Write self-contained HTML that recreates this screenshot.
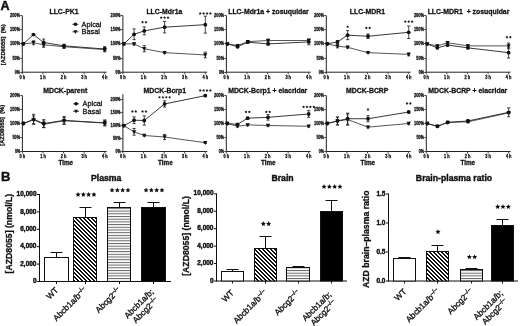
<!DOCTYPE html>
<html><head><meta charset="utf-8"><style>
html,body{margin:0;padding:0;background:#fff;width:520px;height:326px;overflow:hidden;}
svg{display:block;font-family:"Liberation Sans", sans-serif;filter:grayscale(1);}
text{stroke:#111;stroke-width:0.28px;}
</style></head><body>
<svg width="520" height="326" viewBox="0 0 520 326" font-family='"Liberation Sans", sans-serif'>
<defs>
<pattern id="diag" patternUnits="userSpaceOnUse" width="4" height="4">
<rect width="4" height="4" fill="#fff"/><path d="M0,0 L2,0 L4,2 L4,4 Z M0,2 L2,4 L0,4 Z" fill="#111" shape-rendering="crispEdges"/></pattern>
<pattern id="horiz" patternUnits="userSpaceOnUse" width="4" height="2.7">
<rect width="4" height="2.7" fill="#fff"/><rect x="0" y="0" width="4" height="1" fill="#666"/></pattern>
</defs>
<rect width="520" height="326" fill="#fff"/>
<text x="0.6" y="9.8" font-size="12.6" font-weight="bold" text-anchor="start" fill="#111" style="stroke-width:0.45px">A</text>
<text x="1" y="181.4" font-size="13" font-weight="bold" text-anchor="start" fill="#111" style="stroke-width:0.45px">B</text>
<text x="0" y="0" font-size="5.8" font-weight="bold" text-anchor="middle" fill="#111" transform="translate(5.3,44.8) rotate(-90)">[AZD8055]&#160;&#160;(%)</text>
<line x1="22.3" y1="15.6" x2="22.3" y2="72.7" stroke="#222" stroke-width="1.0"/>
<line x1="21.8" y1="72.2" x2="106.6" y2="72.2" stroke="#222" stroke-width="1.0"/>
<line x1="20.3" y1="15.5" x2="22.3" y2="15.5" stroke="#444" stroke-width="1.0"/>
<text x="20" y="17.25" font-size="5.0" font-weight="bold" text-anchor="end" fill="#111" style="stroke-width:0.3px" textLength="10" lengthAdjust="spacingAndGlyphs">200%</text>
<line x1="20.3" y1="29.5" x2="22.3" y2="29.5" stroke="#444" stroke-width="1.0"/>
<text x="20" y="31.25" font-size="5.0" font-weight="bold" text-anchor="end" fill="#111" style="stroke-width:0.3px" textLength="10" lengthAdjust="spacingAndGlyphs">150%</text>
<line x1="20.3" y1="43.5" x2="22.3" y2="43.5" stroke="#444" stroke-width="1.0"/>
<text x="20" y="45.25" font-size="5.0" font-weight="bold" text-anchor="end" fill="#111" style="stroke-width:0.3px" textLength="10" lengthAdjust="spacingAndGlyphs">100%</text>
<line x1="20.3" y1="58.5" x2="22.3" y2="58.5" stroke="#444" stroke-width="1.0"/>
<text x="20" y="60.25" font-size="5.0" font-weight="bold" text-anchor="end" fill="#111" style="stroke-width:0.3px" textLength="7.6" lengthAdjust="spacingAndGlyphs">50%</text>
<line x1="20.3" y1="72.5" x2="22.3" y2="72.5" stroke="#444" stroke-width="1.0"/>
<text x="20" y="74.25" font-size="5.0" font-weight="bold" text-anchor="end" fill="#111" style="stroke-width:0.3px" textLength="5.2" lengthAdjust="spacingAndGlyphs">0%</text>
<line x1="22.3" y1="72.2" x2="22.3" y2="74.2" stroke="#444" stroke-width="1.0"/>
<text x="22.3" y="78.7" font-size="4.7" font-weight="bold" text-anchor="middle" fill="#111" style="stroke-width:0.3px" textLength="5.6" lengthAdjust="spacingAndGlyphs">0 h</text>
<line x1="42.9" y1="72.2" x2="42.9" y2="74.2" stroke="#444" stroke-width="1.0"/>
<text x="42.9" y="78.7" font-size="4.7" font-weight="bold" text-anchor="middle" fill="#111" style="stroke-width:0.3px" textLength="5.6" lengthAdjust="spacingAndGlyphs">1 h</text>
<line x1="63.5" y1="72.2" x2="63.5" y2="74.2" stroke="#444" stroke-width="1.0"/>
<text x="63.5" y="78.7" font-size="4.7" font-weight="bold" text-anchor="middle" fill="#111" style="stroke-width:0.3px" textLength="5.6" lengthAdjust="spacingAndGlyphs">2 h</text>
<line x1="84.1" y1="72.2" x2="84.1" y2="74.2" stroke="#444" stroke-width="1.0"/>
<text x="84.1" y="78.7" font-size="4.7" font-weight="bold" text-anchor="middle" fill="#111" style="stroke-width:0.3px" textLength="5.6" lengthAdjust="spacingAndGlyphs">3 h</text>
<line x1="104.7" y1="72.2" x2="104.7" y2="74.2" stroke="#444" stroke-width="1.0"/>
<text x="104.7" y="78.7" font-size="4.7" font-weight="bold" text-anchor="middle" fill="#111" style="stroke-width:0.3px" textLength="5.6" lengthAdjust="spacingAndGlyphs">4 h</text>
<text x="64" y="13.7" font-size="6.9" font-weight="bold" text-anchor="middle" fill="#111" >LLC-PK1</text>
<polyline points="23.3,43.9 33.48,42.77 43.65,44.75 64,46.73 104.7,49.56" fill="none" stroke="#444" stroke-width="0.9"/>
<polyline points="23.3,43.9 33.48,34.56 43.65,42.49 64,45.88 104.7,48.99" fill="none" stroke="#222" stroke-width="0.9"/>
<path d="M21.2,42.22 L25.4,42.22 L23.3,46.21 Z" fill="#111"/>
<line x1="33.48" y1="44.75" x2="33.48" y2="40.79" stroke="#1a1a1a" stroke-width="0.8"/>
<line x1="31.88" y1="44.75" x2="35.08" y2="44.75" stroke="#1a1a1a" stroke-width="0.8"/>
<line x1="31.88" y1="40.79" x2="35.08" y2="40.79" stroke="#1a1a1a" stroke-width="0.8"/>
<path d="M31.38,41.09 L35.58,41.09 L33.48,45.08 Z" fill="#111"/>
<line x1="43.65" y1="47.3" x2="43.65" y2="42.2" stroke="#1a1a1a" stroke-width="0.8"/>
<line x1="42.05" y1="47.3" x2="45.25" y2="47.3" stroke="#1a1a1a" stroke-width="0.8"/>
<line x1="42.05" y1="42.2" x2="45.25" y2="42.2" stroke="#1a1a1a" stroke-width="0.8"/>
<path d="M41.55,43.07 L45.75,43.07 L43.65,47.06 Z" fill="#111"/>
<line x1="64" y1="48.43" x2="64" y2="45.03" stroke="#1a1a1a" stroke-width="0.8"/>
<line x1="62.4" y1="48.43" x2="65.6" y2="48.43" stroke="#1a1a1a" stroke-width="0.8"/>
<line x1="62.4" y1="45.03" x2="65.6" y2="45.03" stroke="#1a1a1a" stroke-width="0.8"/>
<path d="M61.9,45.05 L66.1,45.05 L64,49.04 Z" fill="#111"/>
<line x1="104.7" y1="51.82" x2="104.7" y2="47.3" stroke="#1a1a1a" stroke-width="0.8"/>
<line x1="103.1" y1="51.82" x2="106.3" y2="51.82" stroke="#1a1a1a" stroke-width="0.8"/>
<line x1="103.1" y1="47.3" x2="106.3" y2="47.3" stroke="#1a1a1a" stroke-width="0.8"/>
<path d="M102.6,47.88 L106.8,47.88 L104.7,51.87 Z" fill="#111"/>
<circle cx="23.3" cy="43.9" r="1.9" fill="#111"/>
<line x1="33.48" y1="35.13" x2="33.48" y2="34" stroke="#1a1a1a" stroke-width="0.8"/>
<line x1="31.88" y1="35.13" x2="35.08" y2="35.13" stroke="#1a1a1a" stroke-width="0.8"/>
<line x1="31.88" y1="34" x2="35.08" y2="34" stroke="#1a1a1a" stroke-width="0.8"/>
<circle cx="33.48" cy="34.56" r="1.9" fill="#111"/>
<line x1="43.65" y1="45.88" x2="43.65" y2="39.09" stroke="#1a1a1a" stroke-width="0.8"/>
<line x1="42.05" y1="45.88" x2="45.25" y2="45.88" stroke="#1a1a1a" stroke-width="0.8"/>
<line x1="42.05" y1="39.09" x2="45.25" y2="39.09" stroke="#1a1a1a" stroke-width="0.8"/>
<circle cx="43.65" cy="42.49" r="1.9" fill="#111"/>
<line x1="64" y1="47.58" x2="64" y2="44.18" stroke="#1a1a1a" stroke-width="0.8"/>
<line x1="62.4" y1="47.58" x2="65.6" y2="47.58" stroke="#1a1a1a" stroke-width="0.8"/>
<line x1="62.4" y1="44.18" x2="65.6" y2="44.18" stroke="#1a1a1a" stroke-width="0.8"/>
<circle cx="64" cy="45.88" r="1.9" fill="#111"/>
<line x1="104.7" y1="51.26" x2="104.7" y2="46.73" stroke="#1a1a1a" stroke-width="0.8"/>
<line x1="103.1" y1="51.26" x2="106.3" y2="51.26" stroke="#1a1a1a" stroke-width="0.8"/>
<line x1="103.1" y1="46.73" x2="106.3" y2="46.73" stroke="#1a1a1a" stroke-width="0.8"/>
<circle cx="104.7" cy="48.99" r="1.9" fill="#111"/>
<line x1="72.4" y1="24.3" x2="78.4" y2="24.3" stroke="#1a1a1a" stroke-width="0.8"/>
<circle cx="75.4" cy="24.3" r="1.8" fill="#111"/>
<line x1="72.4" y1="31.8" x2="78.4" y2="31.8" stroke="#1a1a1a" stroke-width="0.8"/>
<path d="M73.5,30.28 L77.3,30.28 L75.4,33.89 Z" fill="#111"/>
<text x="81.6" y="26.6" font-size="7.3" font-weight="normal" text-anchor="start" fill="#111" >Apical</text>
<text x="81.6" y="34.1" font-size="7.3" font-weight="normal" text-anchor="start" fill="#111" >Basal</text>
<line x1="122.9" y1="15.6" x2="122.9" y2="72.7" stroke="#222" stroke-width="1.0"/>
<line x1="122.4" y1="72.2" x2="207.2" y2="72.2" stroke="#222" stroke-width="1.0"/>
<line x1="120.9" y1="15.5" x2="122.9" y2="15.5" stroke="#444" stroke-width="1.0"/>
<text x="120.6" y="17.25" font-size="5.0" font-weight="bold" text-anchor="end" fill="#111" style="stroke-width:0.3px" textLength="10" lengthAdjust="spacingAndGlyphs">200%</text>
<line x1="120.9" y1="29.5" x2="122.9" y2="29.5" stroke="#444" stroke-width="1.0"/>
<text x="120.6" y="31.25" font-size="5.0" font-weight="bold" text-anchor="end" fill="#111" style="stroke-width:0.3px" textLength="10" lengthAdjust="spacingAndGlyphs">150%</text>
<line x1="120.9" y1="43.5" x2="122.9" y2="43.5" stroke="#444" stroke-width="1.0"/>
<text x="120.6" y="45.25" font-size="5.0" font-weight="bold" text-anchor="end" fill="#111" style="stroke-width:0.3px" textLength="10" lengthAdjust="spacingAndGlyphs">100%</text>
<line x1="120.9" y1="58.5" x2="122.9" y2="58.5" stroke="#444" stroke-width="1.0"/>
<text x="120.6" y="60.25" font-size="5.0" font-weight="bold" text-anchor="end" fill="#111" style="stroke-width:0.3px" textLength="7.6" lengthAdjust="spacingAndGlyphs">50%</text>
<line x1="120.9" y1="72.5" x2="122.9" y2="72.5" stroke="#444" stroke-width="1.0"/>
<text x="120.6" y="74.25" font-size="5.0" font-weight="bold" text-anchor="end" fill="#111" style="stroke-width:0.3px" textLength="5.2" lengthAdjust="spacingAndGlyphs">0%</text>
<line x1="122.9" y1="72.2" x2="122.9" y2="74.2" stroke="#444" stroke-width="1.0"/>
<text x="122.9" y="78.7" font-size="4.7" font-weight="bold" text-anchor="middle" fill="#111" style="stroke-width:0.3px" textLength="5.6" lengthAdjust="spacingAndGlyphs">0 h</text>
<line x1="143.5" y1="72.2" x2="143.5" y2="74.2" stroke="#444" stroke-width="1.0"/>
<text x="143.5" y="78.7" font-size="4.7" font-weight="bold" text-anchor="middle" fill="#111" style="stroke-width:0.3px" textLength="5.6" lengthAdjust="spacingAndGlyphs">1 h</text>
<line x1="164.1" y1="72.2" x2="164.1" y2="74.2" stroke="#444" stroke-width="1.0"/>
<text x="164.1" y="78.7" font-size="4.7" font-weight="bold" text-anchor="middle" fill="#111" style="stroke-width:0.3px" textLength="5.6" lengthAdjust="spacingAndGlyphs">2 h</text>
<line x1="184.7" y1="72.2" x2="184.7" y2="74.2" stroke="#444" stroke-width="1.0"/>
<text x="184.7" y="78.7" font-size="4.7" font-weight="bold" text-anchor="middle" fill="#111" style="stroke-width:0.3px" textLength="5.6" lengthAdjust="spacingAndGlyphs">3 h</text>
<line x1="205.3" y1="72.2" x2="205.3" y2="74.2" stroke="#444" stroke-width="1.0"/>
<text x="205.3" y="78.7" font-size="4.7" font-weight="bold" text-anchor="middle" fill="#111" style="stroke-width:0.3px" textLength="5.6" lengthAdjust="spacingAndGlyphs">4 h</text>
<text x="164.4" y="13.7" font-size="6.9" font-weight="bold" text-anchor="middle" fill="#111" >LLC-Mdr1a</text>
<polyline points="123.9,43.9 134.08,43.9 144.25,48.71 164.6,52.67 205.3,54.94" fill="none" stroke="#444" stroke-width="0.9"/>
<polyline points="123.9,43.9 134.08,34.28 144.25,30.88 164.6,27.2 205.3,24.66" fill="none" stroke="#222" stroke-width="0.9"/>
<path d="M121.8,42.22 L126,42.22 L123.9,46.21 Z" fill="#111"/>
<line x1="134.08" y1="45.03" x2="134.08" y2="42.77" stroke="#1a1a1a" stroke-width="0.8"/>
<line x1="132.48" y1="45.03" x2="135.68" y2="45.03" stroke="#1a1a1a" stroke-width="0.8"/>
<line x1="132.48" y1="42.77" x2="135.68" y2="42.77" stroke="#1a1a1a" stroke-width="0.8"/>
<path d="M131.98,42.22 L136.18,42.22 L134.08,46.21 Z" fill="#111"/>
<line x1="144.25" y1="51.82" x2="144.25" y2="45.6" stroke="#1a1a1a" stroke-width="0.8"/>
<line x1="142.65" y1="51.82" x2="145.85" y2="51.82" stroke="#1a1a1a" stroke-width="0.8"/>
<line x1="142.65" y1="45.6" x2="145.85" y2="45.6" stroke="#1a1a1a" stroke-width="0.8"/>
<path d="M142.15,47.03 L146.35,47.03 L144.25,51.02 Z" fill="#111"/>
<line x1="164.6" y1="53.52" x2="164.6" y2="51.82" stroke="#1a1a1a" stroke-width="0.8"/>
<line x1="163" y1="53.52" x2="166.2" y2="53.52" stroke="#1a1a1a" stroke-width="0.8"/>
<line x1="163" y1="51.82" x2="166.2" y2="51.82" stroke="#1a1a1a" stroke-width="0.8"/>
<path d="M162.5,50.99 L166.7,50.99 L164.6,54.98 Z" fill="#111"/>
<line x1="205.3" y1="57.77" x2="205.3" y2="52.11" stroke="#1a1a1a" stroke-width="0.8"/>
<line x1="203.7" y1="57.77" x2="206.9" y2="57.77" stroke="#1a1a1a" stroke-width="0.8"/>
<line x1="203.7" y1="52.11" x2="206.9" y2="52.11" stroke="#1a1a1a" stroke-width="0.8"/>
<path d="M203.2,53.26 L207.4,53.26 L205.3,57.25 Z" fill="#111"/>
<circle cx="123.9" cy="43.9" r="1.9" fill="#111"/>
<line x1="134.08" y1="39.66" x2="134.08" y2="28.9" stroke="#1a1a1a" stroke-width="0.8"/>
<line x1="132.48" y1="39.66" x2="135.68" y2="39.66" stroke="#1a1a1a" stroke-width="0.8"/>
<line x1="132.48" y1="28.9" x2="135.68" y2="28.9" stroke="#1a1a1a" stroke-width="0.8"/>
<circle cx="134.08" cy="34.28" r="1.9" fill="#111"/>
<line x1="144.25" y1="34.84" x2="144.25" y2="26.92" stroke="#1a1a1a" stroke-width="0.8"/>
<line x1="142.65" y1="34.84" x2="145.85" y2="34.84" stroke="#1a1a1a" stroke-width="0.8"/>
<line x1="142.65" y1="26.92" x2="145.85" y2="26.92" stroke="#1a1a1a" stroke-width="0.8"/>
<circle cx="144.25" cy="30.88" r="1.9" fill="#111"/>
<line x1="164.6" y1="32.86" x2="164.6" y2="21.54" stroke="#1a1a1a" stroke-width="0.8"/>
<line x1="163" y1="32.86" x2="166.2" y2="32.86" stroke="#1a1a1a" stroke-width="0.8"/>
<line x1="163" y1="21.54" x2="166.2" y2="21.54" stroke="#1a1a1a" stroke-width="0.8"/>
<circle cx="164.6" cy="27.2" r="1.9" fill="#111"/>
<line x1="205.3" y1="33.15" x2="205.3" y2="16.17" stroke="#1a1a1a" stroke-width="0.8"/>
<line x1="203.7" y1="33.15" x2="206.9" y2="33.15" stroke="#1a1a1a" stroke-width="0.8"/>
<line x1="203.7" y1="16.17" x2="206.9" y2="16.17" stroke="#1a1a1a" stroke-width="0.8"/>
<circle cx="205.3" cy="24.66" r="1.9" fill="#111"/>
<path d="M142.55,20.65 L143.01,21.57 L144.02,21.72 L143.29,22.44 L143.46,23.45 L142.55,22.97 L141.64,23.45 L141.81,22.44 L141.08,21.72 L142.09,21.57 Z M145.95,20.65 L146.41,21.57 L147.42,21.72 L146.69,22.44 L146.86,23.45 L145.95,22.97 L145.04,23.45 L145.21,22.44 L144.48,21.72 L145.49,21.57 Z" fill="#111"/>
<path d="M161.2,16.05 L161.66,16.97 L162.67,17.12 L161.94,17.84 L162.11,18.85 L161.2,18.38 L160.29,18.85 L160.46,17.84 L159.73,17.12 L160.74,16.97 Z M164.6,16.05 L165.06,16.97 L166.07,17.12 L165.34,17.84 L165.51,18.85 L164.6,18.38 L163.69,18.85 L163.86,17.84 L163.13,17.12 L164.14,16.97 Z M168,16.05 L168.46,16.97 L169.47,17.12 L168.74,17.84 L168.91,18.85 L168,18.38 L167.09,18.85 L167.26,17.84 L166.53,17.12 L167.54,16.97 Z" fill="#111"/>
<path d="M200.2,11.95 L200.66,12.87 L201.67,13.02 L200.94,13.74 L201.11,14.75 L200.2,14.28 L199.29,14.75 L199.46,13.74 L198.73,13.02 L199.74,12.87 Z M203.6,11.95 L204.06,12.87 L205.07,13.02 L204.34,13.74 L204.51,14.75 L203.6,14.28 L202.69,14.75 L202.86,13.74 L202.13,13.02 L203.14,12.87 Z M207,11.95 L207.46,12.87 L208.47,13.02 L207.74,13.74 L207.91,14.75 L207,14.28 L206.09,14.75 L206.26,13.74 L205.53,13.02 L206.54,12.87 Z M210.4,11.95 L210.86,12.87 L211.87,13.02 L211.14,13.74 L211.31,14.75 L210.4,14.28 L209.49,14.75 L209.66,13.74 L208.93,13.02 L209.94,12.87 Z" fill="#111"/>
<line x1="226.4" y1="15.6" x2="226.4" y2="72.7" stroke="#222" stroke-width="1.0"/>
<line x1="225.9" y1="72.2" x2="310.7" y2="72.2" stroke="#222" stroke-width="1.0"/>
<line x1="224.4" y1="15.5" x2="226.4" y2="15.5" stroke="#444" stroke-width="1.0"/>
<text x="224.1" y="17.25" font-size="5.0" font-weight="bold" text-anchor="end" fill="#111" style="stroke-width:0.3px" textLength="10" lengthAdjust="spacingAndGlyphs">200%</text>
<line x1="224.4" y1="29.5" x2="226.4" y2="29.5" stroke="#444" stroke-width="1.0"/>
<text x="224.1" y="31.25" font-size="5.0" font-weight="bold" text-anchor="end" fill="#111" style="stroke-width:0.3px" textLength="10" lengthAdjust="spacingAndGlyphs">150%</text>
<line x1="224.4" y1="43.5" x2="226.4" y2="43.5" stroke="#444" stroke-width="1.0"/>
<text x="224.1" y="45.25" font-size="5.0" font-weight="bold" text-anchor="end" fill="#111" style="stroke-width:0.3px" textLength="10" lengthAdjust="spacingAndGlyphs">100%</text>
<line x1="224.4" y1="58.5" x2="226.4" y2="58.5" stroke="#444" stroke-width="1.0"/>
<text x="224.1" y="60.25" font-size="5.0" font-weight="bold" text-anchor="end" fill="#111" style="stroke-width:0.3px" textLength="7.6" lengthAdjust="spacingAndGlyphs">50%</text>
<line x1="224.4" y1="72.5" x2="226.4" y2="72.5" stroke="#444" stroke-width="1.0"/>
<text x="224.1" y="74.25" font-size="5.0" font-weight="bold" text-anchor="end" fill="#111" style="stroke-width:0.3px" textLength="5.2" lengthAdjust="spacingAndGlyphs">0%</text>
<line x1="226.4" y1="72.2" x2="226.4" y2="74.2" stroke="#444" stroke-width="1.0"/>
<text x="226.4" y="78.7" font-size="4.7" font-weight="bold" text-anchor="middle" fill="#111" style="stroke-width:0.3px" textLength="5.6" lengthAdjust="spacingAndGlyphs">0 h</text>
<line x1="247" y1="72.2" x2="247" y2="74.2" stroke="#444" stroke-width="1.0"/>
<text x="247" y="78.7" font-size="4.7" font-weight="bold" text-anchor="middle" fill="#111" style="stroke-width:0.3px" textLength="5.6" lengthAdjust="spacingAndGlyphs">1 h</text>
<line x1="267.6" y1="72.2" x2="267.6" y2="74.2" stroke="#444" stroke-width="1.0"/>
<text x="267.6" y="78.7" font-size="4.7" font-weight="bold" text-anchor="middle" fill="#111" style="stroke-width:0.3px" textLength="5.6" lengthAdjust="spacingAndGlyphs">2 h</text>
<line x1="288.2" y1="72.2" x2="288.2" y2="74.2" stroke="#444" stroke-width="1.0"/>
<text x="288.2" y="78.7" font-size="4.7" font-weight="bold" text-anchor="middle" fill="#111" style="stroke-width:0.3px" textLength="5.6" lengthAdjust="spacingAndGlyphs">3 h</text>
<line x1="308.8" y1="72.2" x2="308.8" y2="74.2" stroke="#444" stroke-width="1.0"/>
<text x="308.8" y="78.7" font-size="4.7" font-weight="bold" text-anchor="middle" fill="#111" style="stroke-width:0.3px" textLength="5.6" lengthAdjust="spacingAndGlyphs">4 h</text>
<text x="268.5" y="13.7" font-size="6.9" font-weight="bold" text-anchor="middle" fill="#111" >LLC-Mdr1a + zosuquidar</text>
<polyline points="227.4,43.9 237.58,45.6 247.75,41.64 268.1,40.5 308.8,40.5" fill="none" stroke="#444" stroke-width="0.9"/>
<polyline points="227.4,43.9 237.58,46.73 247.75,42.2 268.1,43.9 308.8,41.92" fill="none" stroke="#222" stroke-width="0.9"/>
<path d="M225.3,42.22 L229.5,42.22 L227.4,46.21 Z" fill="#111"/>
<line x1="237.58" y1="46.45" x2="237.58" y2="44.75" stroke="#1a1a1a" stroke-width="0.8"/>
<line x1="235.98" y1="46.45" x2="239.18" y2="46.45" stroke="#1a1a1a" stroke-width="0.8"/>
<line x1="235.98" y1="44.75" x2="239.18" y2="44.75" stroke="#1a1a1a" stroke-width="0.8"/>
<path d="M235.48,43.92 L239.68,43.92 L237.58,47.91 Z" fill="#111"/>
<line x1="247.75" y1="42.49" x2="247.75" y2="40.79" stroke="#1a1a1a" stroke-width="0.8"/>
<line x1="246.15" y1="42.49" x2="249.35" y2="42.49" stroke="#1a1a1a" stroke-width="0.8"/>
<line x1="246.15" y1="40.79" x2="249.35" y2="40.79" stroke="#1a1a1a" stroke-width="0.8"/>
<path d="M245.65,39.96 L249.85,39.96 L247.75,43.95 Z" fill="#111"/>
<line x1="268.1" y1="41.64" x2="268.1" y2="39.37" stroke="#1a1a1a" stroke-width="0.8"/>
<line x1="266.5" y1="41.64" x2="269.7" y2="41.64" stroke="#1a1a1a" stroke-width="0.8"/>
<line x1="266.5" y1="39.37" x2="269.7" y2="39.37" stroke="#1a1a1a" stroke-width="0.8"/>
<path d="M266,38.82 L270.2,38.82 L268.1,42.81 Z" fill="#111"/>
<line x1="308.8" y1="41.64" x2="308.8" y2="39.37" stroke="#1a1a1a" stroke-width="0.8"/>
<line x1="307.2" y1="41.64" x2="310.4" y2="41.64" stroke="#1a1a1a" stroke-width="0.8"/>
<line x1="307.2" y1="39.37" x2="310.4" y2="39.37" stroke="#1a1a1a" stroke-width="0.8"/>
<path d="M306.7,38.82 L310.9,38.82 L308.8,42.81 Z" fill="#111"/>
<circle cx="227.4" cy="43.9" r="1.9" fill="#111"/>
<line x1="237.58" y1="47.58" x2="237.58" y2="45.88" stroke="#1a1a1a" stroke-width="0.8"/>
<line x1="235.98" y1="47.58" x2="239.18" y2="47.58" stroke="#1a1a1a" stroke-width="0.8"/>
<line x1="235.98" y1="45.88" x2="239.18" y2="45.88" stroke="#1a1a1a" stroke-width="0.8"/>
<circle cx="237.58" cy="46.73" r="1.9" fill="#111"/>
<line x1="247.75" y1="43.05" x2="247.75" y2="41.35" stroke="#1a1a1a" stroke-width="0.8"/>
<line x1="246.15" y1="43.05" x2="249.35" y2="43.05" stroke="#1a1a1a" stroke-width="0.8"/>
<line x1="246.15" y1="41.35" x2="249.35" y2="41.35" stroke="#1a1a1a" stroke-width="0.8"/>
<circle cx="247.75" cy="42.2" r="1.9" fill="#111"/>
<line x1="268.1" y1="44.75" x2="268.1" y2="43.05" stroke="#1a1a1a" stroke-width="0.8"/>
<line x1="266.5" y1="44.75" x2="269.7" y2="44.75" stroke="#1a1a1a" stroke-width="0.8"/>
<line x1="266.5" y1="43.05" x2="269.7" y2="43.05" stroke="#1a1a1a" stroke-width="0.8"/>
<circle cx="268.1" cy="43.9" r="1.9" fill="#111"/>
<line x1="308.8" y1="44.75" x2="308.8" y2="39.09" stroke="#1a1a1a" stroke-width="0.8"/>
<line x1="307.2" y1="44.75" x2="310.4" y2="44.75" stroke="#1a1a1a" stroke-width="0.8"/>
<line x1="307.2" y1="39.09" x2="310.4" y2="39.09" stroke="#1a1a1a" stroke-width="0.8"/>
<circle cx="308.8" cy="41.92" r="1.9" fill="#111"/>
<line x1="326.3" y1="15.6" x2="326.3" y2="72.7" stroke="#222" stroke-width="1.0"/>
<line x1="325.8" y1="72.2" x2="410.6" y2="72.2" stroke="#222" stroke-width="1.0"/>
<line x1="324.3" y1="15.5" x2="326.3" y2="15.5" stroke="#444" stroke-width="1.0"/>
<text x="324" y="17.25" font-size="5.0" font-weight="bold" text-anchor="end" fill="#111" style="stroke-width:0.3px" textLength="10" lengthAdjust="spacingAndGlyphs">200%</text>
<line x1="324.3" y1="29.5" x2="326.3" y2="29.5" stroke="#444" stroke-width="1.0"/>
<text x="324" y="31.25" font-size="5.0" font-weight="bold" text-anchor="end" fill="#111" style="stroke-width:0.3px" textLength="10" lengthAdjust="spacingAndGlyphs">150%</text>
<line x1="324.3" y1="43.5" x2="326.3" y2="43.5" stroke="#444" stroke-width="1.0"/>
<text x="324" y="45.25" font-size="5.0" font-weight="bold" text-anchor="end" fill="#111" style="stroke-width:0.3px" textLength="10" lengthAdjust="spacingAndGlyphs">100%</text>
<line x1="324.3" y1="58.5" x2="326.3" y2="58.5" stroke="#444" stroke-width="1.0"/>
<text x="324" y="60.25" font-size="5.0" font-weight="bold" text-anchor="end" fill="#111" style="stroke-width:0.3px" textLength="7.6" lengthAdjust="spacingAndGlyphs">50%</text>
<line x1="324.3" y1="72.5" x2="326.3" y2="72.5" stroke="#444" stroke-width="1.0"/>
<text x="324" y="74.25" font-size="5.0" font-weight="bold" text-anchor="end" fill="#111" style="stroke-width:0.3px" textLength="5.2" lengthAdjust="spacingAndGlyphs">0%</text>
<line x1="326.3" y1="72.2" x2="326.3" y2="74.2" stroke="#444" stroke-width="1.0"/>
<text x="326.3" y="78.7" font-size="4.7" font-weight="bold" text-anchor="middle" fill="#111" style="stroke-width:0.3px" textLength="5.6" lengthAdjust="spacingAndGlyphs">0 h</text>
<line x1="346.9" y1="72.2" x2="346.9" y2="74.2" stroke="#444" stroke-width="1.0"/>
<text x="346.9" y="78.7" font-size="4.7" font-weight="bold" text-anchor="middle" fill="#111" style="stroke-width:0.3px" textLength="5.6" lengthAdjust="spacingAndGlyphs">1 h</text>
<line x1="367.5" y1="72.2" x2="367.5" y2="74.2" stroke="#444" stroke-width="1.0"/>
<text x="367.5" y="78.7" font-size="4.7" font-weight="bold" text-anchor="middle" fill="#111" style="stroke-width:0.3px" textLength="5.6" lengthAdjust="spacingAndGlyphs">2 h</text>
<line x1="388.1" y1="72.2" x2="388.1" y2="74.2" stroke="#444" stroke-width="1.0"/>
<text x="388.1" y="78.7" font-size="4.7" font-weight="bold" text-anchor="middle" fill="#111" style="stroke-width:0.3px" textLength="5.6" lengthAdjust="spacingAndGlyphs">3 h</text>
<line x1="408.7" y1="72.2" x2="408.7" y2="74.2" stroke="#444" stroke-width="1.0"/>
<text x="408.7" y="78.7" font-size="4.7" font-weight="bold" text-anchor="middle" fill="#111" style="stroke-width:0.3px" textLength="5.6" lengthAdjust="spacingAndGlyphs">4 h</text>
<text x="367.4" y="13.7" font-size="6.9" font-weight="bold" text-anchor="middle" fill="#111" >LLC-MDR1</text>
<polyline points="327.3,43.9 337.48,46.16 347.65,47.3 368,52.67 408.7,54.37" fill="none" stroke="#444" stroke-width="0.9"/>
<polyline points="327.3,43.9 337.48,41.92 347.65,35.13 368,36.26 408.7,32.3" fill="none" stroke="#222" stroke-width="0.9"/>
<path d="M325.2,42.22 L329.4,42.22 L327.3,46.21 Z" fill="#111"/>
<line x1="337.48" y1="47.86" x2="337.48" y2="44.47" stroke="#1a1a1a" stroke-width="0.8"/>
<line x1="335.88" y1="47.86" x2="339.08" y2="47.86" stroke="#1a1a1a" stroke-width="0.8"/>
<line x1="335.88" y1="44.47" x2="339.08" y2="44.47" stroke="#1a1a1a" stroke-width="0.8"/>
<path d="M335.38,44.48 L339.58,44.48 L337.48,48.47 Z" fill="#111"/>
<line x1="347.65" y1="48.15" x2="347.65" y2="46.45" stroke="#1a1a1a" stroke-width="0.8"/>
<line x1="346.05" y1="48.15" x2="349.25" y2="48.15" stroke="#1a1a1a" stroke-width="0.8"/>
<line x1="346.05" y1="46.45" x2="349.25" y2="46.45" stroke="#1a1a1a" stroke-width="0.8"/>
<path d="M345.55,45.62 L349.75,45.62 L347.65,49.61 Z" fill="#111"/>
<line x1="368" y1="53.24" x2="368" y2="52.11" stroke="#1a1a1a" stroke-width="0.8"/>
<line x1="366.4" y1="53.24" x2="369.6" y2="53.24" stroke="#1a1a1a" stroke-width="0.8"/>
<line x1="366.4" y1="52.11" x2="369.6" y2="52.11" stroke="#1a1a1a" stroke-width="0.8"/>
<path d="M365.9,50.99 L370.1,50.99 L368,54.98 Z" fill="#111"/>
<line x1="408.7" y1="55.79" x2="408.7" y2="52.96" stroke="#1a1a1a" stroke-width="0.8"/>
<line x1="407.1" y1="55.79" x2="410.3" y2="55.79" stroke="#1a1a1a" stroke-width="0.8"/>
<line x1="407.1" y1="52.96" x2="410.3" y2="52.96" stroke="#1a1a1a" stroke-width="0.8"/>
<path d="M406.6,52.69 L410.8,52.69 L408.7,56.68 Z" fill="#111"/>
<circle cx="327.3" cy="43.9" r="1.9" fill="#111"/>
<line x1="337.48" y1="43.33" x2="337.48" y2="40.5" stroke="#1a1a1a" stroke-width="0.8"/>
<line x1="335.88" y1="43.33" x2="339.08" y2="43.33" stroke="#1a1a1a" stroke-width="0.8"/>
<line x1="335.88" y1="40.5" x2="339.08" y2="40.5" stroke="#1a1a1a" stroke-width="0.8"/>
<circle cx="337.48" cy="41.92" r="1.9" fill="#111"/>
<line x1="347.65" y1="39.66" x2="347.65" y2="30.6" stroke="#1a1a1a" stroke-width="0.8"/>
<line x1="346.05" y1="39.66" x2="349.25" y2="39.66" stroke="#1a1a1a" stroke-width="0.8"/>
<line x1="346.05" y1="30.6" x2="349.25" y2="30.6" stroke="#1a1a1a" stroke-width="0.8"/>
<circle cx="347.65" cy="35.13" r="1.9" fill="#111"/>
<line x1="368" y1="38.52" x2="368" y2="34" stroke="#1a1a1a" stroke-width="0.8"/>
<line x1="366.4" y1="38.52" x2="369.6" y2="38.52" stroke="#1a1a1a" stroke-width="0.8"/>
<line x1="366.4" y1="34" x2="369.6" y2="34" stroke="#1a1a1a" stroke-width="0.8"/>
<circle cx="368" cy="36.26" r="1.9" fill="#111"/>
<line x1="408.7" y1="38.52" x2="408.7" y2="26.07" stroke="#1a1a1a" stroke-width="0.8"/>
<line x1="407.1" y1="38.52" x2="410.3" y2="38.52" stroke="#1a1a1a" stroke-width="0.8"/>
<line x1="407.1" y1="26.07" x2="410.3" y2="26.07" stroke="#1a1a1a" stroke-width="0.8"/>
<circle cx="408.7" cy="32.3" r="1.9" fill="#111"/>
<path d="M347.65,25.25 L348.11,26.17 L349.12,26.32 L348.39,27.04 L348.56,28.05 L347.65,27.57 L346.74,28.05 L346.91,27.04 L346.18,26.32 L347.19,26.17 Z" fill="#111"/>
<path d="M366.3,26.45 L366.76,27.37 L367.77,27.52 L367.04,28.24 L367.21,29.25 L366.3,28.77 L365.39,29.25 L365.56,28.24 L364.83,27.52 L365.84,27.37 Z M369.7,26.45 L370.16,27.37 L371.17,27.52 L370.44,28.24 L370.61,29.25 L369.7,28.77 L368.79,29.25 L368.96,28.24 L368.23,27.52 L369.24,27.37 Z" fill="#111"/>
<path d="M405.3,20.05 L405.76,20.97 L406.77,21.12 L406.04,21.84 L406.21,22.85 L405.3,22.38 L404.39,22.85 L404.56,21.84 L403.83,21.12 L404.84,20.97 Z M408.7,20.05 L409.16,20.97 L410.17,21.12 L409.44,21.84 L409.61,22.85 L408.7,22.38 L407.79,22.85 L407.96,21.84 L407.23,21.12 L408.24,20.97 Z M412.1,20.05 L412.56,20.97 L413.57,21.12 L412.84,21.84 L413.01,22.85 L412.1,22.38 L411.19,22.85 L411.36,21.84 L410.63,21.12 L411.64,20.97 Z" fill="#111"/>
<line x1="426.2" y1="15.6" x2="426.2" y2="72.7" stroke="#222" stroke-width="1.0"/>
<line x1="425.7" y1="72.2" x2="510.5" y2="72.2" stroke="#222" stroke-width="1.0"/>
<line x1="424.2" y1="15.5" x2="426.2" y2="15.5" stroke="#444" stroke-width="1.0"/>
<text x="423.9" y="17.25" font-size="5.0" font-weight="bold" text-anchor="end" fill="#111" style="stroke-width:0.3px" textLength="10" lengthAdjust="spacingAndGlyphs">200%</text>
<line x1="424.2" y1="29.5" x2="426.2" y2="29.5" stroke="#444" stroke-width="1.0"/>
<text x="423.9" y="31.25" font-size="5.0" font-weight="bold" text-anchor="end" fill="#111" style="stroke-width:0.3px" textLength="10" lengthAdjust="spacingAndGlyphs">150%</text>
<line x1="424.2" y1="43.5" x2="426.2" y2="43.5" stroke="#444" stroke-width="1.0"/>
<text x="423.9" y="45.25" font-size="5.0" font-weight="bold" text-anchor="end" fill="#111" style="stroke-width:0.3px" textLength="10" lengthAdjust="spacingAndGlyphs">100%</text>
<line x1="424.2" y1="58.5" x2="426.2" y2="58.5" stroke="#444" stroke-width="1.0"/>
<text x="423.9" y="60.25" font-size="5.0" font-weight="bold" text-anchor="end" fill="#111" style="stroke-width:0.3px" textLength="7.6" lengthAdjust="spacingAndGlyphs">50%</text>
<line x1="424.2" y1="72.5" x2="426.2" y2="72.5" stroke="#444" stroke-width="1.0"/>
<text x="423.9" y="74.25" font-size="5.0" font-weight="bold" text-anchor="end" fill="#111" style="stroke-width:0.3px" textLength="5.2" lengthAdjust="spacingAndGlyphs">0%</text>
<line x1="426.2" y1="72.2" x2="426.2" y2="74.2" stroke="#444" stroke-width="1.0"/>
<text x="426.2" y="78.7" font-size="4.7" font-weight="bold" text-anchor="middle" fill="#111" style="stroke-width:0.3px" textLength="5.6" lengthAdjust="spacingAndGlyphs">0 h</text>
<line x1="446.8" y1="72.2" x2="446.8" y2="74.2" stroke="#444" stroke-width="1.0"/>
<text x="446.8" y="78.7" font-size="4.7" font-weight="bold" text-anchor="middle" fill="#111" style="stroke-width:0.3px" textLength="5.6" lengthAdjust="spacingAndGlyphs">1 h</text>
<line x1="467.4" y1="72.2" x2="467.4" y2="74.2" stroke="#444" stroke-width="1.0"/>
<text x="467.4" y="78.7" font-size="4.7" font-weight="bold" text-anchor="middle" fill="#111" style="stroke-width:0.3px" textLength="5.6" lengthAdjust="spacingAndGlyphs">2 h</text>
<line x1="488" y1="72.2" x2="488" y2="74.2" stroke="#444" stroke-width="1.0"/>
<text x="488" y="78.7" font-size="4.7" font-weight="bold" text-anchor="middle" fill="#111" style="stroke-width:0.3px" textLength="5.6" lengthAdjust="spacingAndGlyphs">3 h</text>
<line x1="508.6" y1="72.2" x2="508.6" y2="74.2" stroke="#444" stroke-width="1.0"/>
<text x="508.6" y="78.7" font-size="4.7" font-weight="bold" text-anchor="middle" fill="#111" style="stroke-width:0.3px" textLength="5.6" lengthAdjust="spacingAndGlyphs">4 h</text>
<text x="468.5" y="13.7" font-size="6.9" font-weight="bold" text-anchor="middle" fill="#111" >LLC-MDR1&#160;&#160;+ zosuquidar</text>
<polyline points="427.2,43.9 437.38,45.88 447.55,42.77 467.9,45.88 508.6,45.88" fill="none" stroke="#444" stroke-width="0.9"/>
<polyline points="427.2,43.9 437.38,47.86 447.55,45.03 467.9,47.86 508.6,52.67" fill="none" stroke="#222" stroke-width="0.9"/>
<path d="M425.1,42.22 L429.3,42.22 L427.2,46.21 Z" fill="#111"/>
<line x1="437.38" y1="46.73" x2="437.38" y2="45.03" stroke="#1a1a1a" stroke-width="0.8"/>
<line x1="435.77" y1="46.73" x2="438.98" y2="46.73" stroke="#1a1a1a" stroke-width="0.8"/>
<line x1="435.77" y1="45.03" x2="438.98" y2="45.03" stroke="#1a1a1a" stroke-width="0.8"/>
<path d="M435.27,44.2 L439.48,44.2 L437.38,48.19 Z" fill="#111"/>
<line x1="447.55" y1="43.62" x2="447.55" y2="41.92" stroke="#1a1a1a" stroke-width="0.8"/>
<line x1="445.95" y1="43.62" x2="449.15" y2="43.62" stroke="#1a1a1a" stroke-width="0.8"/>
<line x1="445.95" y1="41.92" x2="449.15" y2="41.92" stroke="#1a1a1a" stroke-width="0.8"/>
<path d="M445.45,41.09 L449.65,41.09 L447.55,45.08 Z" fill="#111"/>
<line x1="467.9" y1="47.01" x2="467.9" y2="44.75" stroke="#1a1a1a" stroke-width="0.8"/>
<line x1="466.3" y1="47.01" x2="469.5" y2="47.01" stroke="#1a1a1a" stroke-width="0.8"/>
<line x1="466.3" y1="44.75" x2="469.5" y2="44.75" stroke="#1a1a1a" stroke-width="0.8"/>
<path d="M465.8,44.2 L470,44.2 L467.9,48.19 Z" fill="#111"/>
<line x1="508.6" y1="48.71" x2="508.6" y2="43.05" stroke="#1a1a1a" stroke-width="0.8"/>
<line x1="507" y1="48.71" x2="510.2" y2="48.71" stroke="#1a1a1a" stroke-width="0.8"/>
<line x1="507" y1="43.05" x2="510.2" y2="43.05" stroke="#1a1a1a" stroke-width="0.8"/>
<path d="M506.5,44.2 L510.7,44.2 L508.6,48.19 Z" fill="#111"/>
<circle cx="427.2" cy="43.9" r="1.9" fill="#111"/>
<line x1="437.38" y1="48.71" x2="437.38" y2="47.01" stroke="#1a1a1a" stroke-width="0.8"/>
<line x1="435.77" y1="48.71" x2="438.98" y2="48.71" stroke="#1a1a1a" stroke-width="0.8"/>
<line x1="435.77" y1="47.01" x2="438.98" y2="47.01" stroke="#1a1a1a" stroke-width="0.8"/>
<circle cx="437.38" cy="47.86" r="1.9" fill="#111"/>
<line x1="447.55" y1="45.88" x2="447.55" y2="44.18" stroke="#1a1a1a" stroke-width="0.8"/>
<line x1="445.95" y1="45.88" x2="449.15" y2="45.88" stroke="#1a1a1a" stroke-width="0.8"/>
<line x1="445.95" y1="44.18" x2="449.15" y2="44.18" stroke="#1a1a1a" stroke-width="0.8"/>
<circle cx="447.55" cy="45.03" r="1.9" fill="#111"/>
<line x1="467.9" y1="48.71" x2="467.9" y2="47.01" stroke="#1a1a1a" stroke-width="0.8"/>
<line x1="466.3" y1="48.71" x2="469.5" y2="48.71" stroke="#1a1a1a" stroke-width="0.8"/>
<line x1="466.3" y1="47.01" x2="469.5" y2="47.01" stroke="#1a1a1a" stroke-width="0.8"/>
<circle cx="467.9" cy="47.86" r="1.9" fill="#111"/>
<line x1="508.6" y1="58.05" x2="508.6" y2="47.3" stroke="#1a1a1a" stroke-width="0.8"/>
<line x1="507" y1="58.05" x2="510.2" y2="58.05" stroke="#1a1a1a" stroke-width="0.8"/>
<line x1="507" y1="47.3" x2="510.2" y2="47.3" stroke="#1a1a1a" stroke-width="0.8"/>
<circle cx="508.6" cy="52.67" r="1.9" fill="#111"/>
<path d="M506.9,35.65 L507.36,36.57 L508.37,36.72 L507.64,37.44 L507.81,38.45 L506.9,37.98 L505.99,38.45 L506.16,37.44 L505.43,36.72 L506.44,36.57 Z M510.3,35.65 L510.76,36.57 L511.77,36.72 L511.04,37.44 L511.21,38.45 L510.3,37.98 L509.39,38.45 L509.56,37.44 L508.83,36.72 L509.84,36.57 Z" fill="#111"/>
<text x="0" y="0" font-size="5.8" font-weight="bold" text-anchor="middle" fill="#111" transform="translate(4.3,125.3) rotate(-90)">[AZD8055]&#160;&#160;(%)</text>
<line x1="22.4" y1="95.5" x2="22.4" y2="152" stroke="#222" stroke-width="1.0"/>
<line x1="21.9" y1="151.5" x2="106.7" y2="151.5" stroke="#222" stroke-width="1.0"/>
<line x1="20.4" y1="95.5" x2="22.4" y2="95.5" stroke="#444" stroke-width="1.0"/>
<text x="20.1" y="97.25" font-size="5.0" font-weight="bold" text-anchor="end" fill="#111" style="stroke-width:0.3px" textLength="10" lengthAdjust="spacingAndGlyphs">200%</text>
<line x1="20.4" y1="109.5" x2="22.4" y2="109.5" stroke="#444" stroke-width="1.0"/>
<text x="20.1" y="111.25" font-size="5.0" font-weight="bold" text-anchor="end" fill="#111" style="stroke-width:0.3px" textLength="10" lengthAdjust="spacingAndGlyphs">150%</text>
<line x1="20.4" y1="123.5" x2="22.4" y2="123.5" stroke="#444" stroke-width="1.0"/>
<text x="20.1" y="125.25" font-size="5.0" font-weight="bold" text-anchor="end" fill="#111" style="stroke-width:0.3px" textLength="10" lengthAdjust="spacingAndGlyphs">100%</text>
<line x1="20.4" y1="137.5" x2="22.4" y2="137.5" stroke="#444" stroke-width="1.0"/>
<text x="20.1" y="139.25" font-size="5.0" font-weight="bold" text-anchor="end" fill="#111" style="stroke-width:0.3px" textLength="7.6" lengthAdjust="spacingAndGlyphs">50%</text>
<line x1="20.4" y1="151.5" x2="22.4" y2="151.5" stroke="#444" stroke-width="1.0"/>
<text x="20.1" y="153.25" font-size="5.0" font-weight="bold" text-anchor="end" fill="#111" style="stroke-width:0.3px" textLength="5.2" lengthAdjust="spacingAndGlyphs">0%</text>
<line x1="22.4" y1="151.5" x2="22.4" y2="153.5" stroke="#444" stroke-width="1.0"/>
<text x="22.4" y="158" font-size="4.7" font-weight="bold" text-anchor="middle" fill="#111" style="stroke-width:0.3px" textLength="5.6" lengthAdjust="spacingAndGlyphs">0 h</text>
<line x1="43" y1="151.5" x2="43" y2="153.5" stroke="#444" stroke-width="1.0"/>
<text x="43" y="158" font-size="4.7" font-weight="bold" text-anchor="middle" fill="#111" style="stroke-width:0.3px" textLength="5.6" lengthAdjust="spacingAndGlyphs">1 h</text>
<line x1="63.6" y1="151.5" x2="63.6" y2="153.5" stroke="#444" stroke-width="1.0"/>
<text x="63.6" y="158" font-size="4.7" font-weight="bold" text-anchor="middle" fill="#111" style="stroke-width:0.3px" textLength="5.6" lengthAdjust="spacingAndGlyphs">2 h</text>
<line x1="84.2" y1="151.5" x2="84.2" y2="153.5" stroke="#444" stroke-width="1.0"/>
<text x="84.2" y="158" font-size="4.7" font-weight="bold" text-anchor="middle" fill="#111" style="stroke-width:0.3px" textLength="5.6" lengthAdjust="spacingAndGlyphs">3 h</text>
<line x1="104.8" y1="151.5" x2="104.8" y2="153.5" stroke="#444" stroke-width="1.0"/>
<text x="104.8" y="158" font-size="4.7" font-weight="bold" text-anchor="middle" fill="#111" style="stroke-width:0.3px" textLength="5.6" lengthAdjust="spacingAndGlyphs">4 h</text>
<text x="65.2" y="92.6" font-size="6.9" font-weight="bold" text-anchor="middle" fill="#111" >MDCK-parent</text>
<text x="65.8" y="164.6" font-size="6.3" font-weight="bold" text-anchor="middle" fill="#111" >Time</text>
<polyline points="23.4,123.5 33.58,119.86 43.75,124.34 64.1,120.7 104.8,122.94" fill="none" stroke="#444" stroke-width="0.9"/>
<polyline points="23.4,123.5 33.58,119.3 43.75,123.5 64.1,120.42 104.8,122.94" fill="none" stroke="#222" stroke-width="0.9"/>
<path d="M21.3,121.82 L25.5,121.82 L23.4,125.81 Z" fill="#111"/>
<line x1="33.58" y1="123.78" x2="33.58" y2="115.94" stroke="#1a1a1a" stroke-width="0.8"/>
<line x1="31.98" y1="123.78" x2="35.18" y2="123.78" stroke="#1a1a1a" stroke-width="0.8"/>
<line x1="31.98" y1="115.94" x2="35.18" y2="115.94" stroke="#1a1a1a" stroke-width="0.8"/>
<path d="M31.48,118.18 L35.68,118.18 L33.58,122.17 Z" fill="#111"/>
<line x1="43.75" y1="127.7" x2="43.75" y2="120.98" stroke="#1a1a1a" stroke-width="0.8"/>
<line x1="42.15" y1="127.7" x2="45.35" y2="127.7" stroke="#1a1a1a" stroke-width="0.8"/>
<line x1="42.15" y1="120.98" x2="45.35" y2="120.98" stroke="#1a1a1a" stroke-width="0.8"/>
<path d="M41.65,122.66 L45.85,122.66 L43.75,126.65 Z" fill="#111"/>
<line x1="64.1" y1="124.06" x2="64.1" y2="117.34" stroke="#1a1a1a" stroke-width="0.8"/>
<line x1="62.5" y1="124.06" x2="65.7" y2="124.06" stroke="#1a1a1a" stroke-width="0.8"/>
<line x1="62.5" y1="117.34" x2="65.7" y2="117.34" stroke="#1a1a1a" stroke-width="0.8"/>
<path d="M62,119.02 L66.2,119.02 L64.1,123.01 Z" fill="#111"/>
<line x1="104.8" y1="125.74" x2="104.8" y2="120.14" stroke="#1a1a1a" stroke-width="0.8"/>
<line x1="103.2" y1="125.74" x2="106.4" y2="125.74" stroke="#1a1a1a" stroke-width="0.8"/>
<line x1="103.2" y1="120.14" x2="106.4" y2="120.14" stroke="#1a1a1a" stroke-width="0.8"/>
<path d="M102.7,121.26 L106.9,121.26 L104.8,125.25 Z" fill="#111"/>
<circle cx="23.4" cy="123.5" r="1.9" fill="#111"/>
<line x1="33.58" y1="124.34" x2="33.58" y2="114.26" stroke="#1a1a1a" stroke-width="0.8"/>
<line x1="31.98" y1="124.34" x2="35.18" y2="124.34" stroke="#1a1a1a" stroke-width="0.8"/>
<line x1="31.98" y1="114.26" x2="35.18" y2="114.26" stroke="#1a1a1a" stroke-width="0.8"/>
<circle cx="33.58" cy="119.3" r="1.9" fill="#111"/>
<line x1="43.75" y1="127.42" x2="43.75" y2="119.58" stroke="#1a1a1a" stroke-width="0.8"/>
<line x1="42.15" y1="127.42" x2="45.35" y2="127.42" stroke="#1a1a1a" stroke-width="0.8"/>
<line x1="42.15" y1="119.58" x2="45.35" y2="119.58" stroke="#1a1a1a" stroke-width="0.8"/>
<circle cx="43.75" cy="123.5" r="1.9" fill="#111"/>
<line x1="64.1" y1="124.34" x2="64.1" y2="116.5" stroke="#1a1a1a" stroke-width="0.8"/>
<line x1="62.5" y1="124.34" x2="65.7" y2="124.34" stroke="#1a1a1a" stroke-width="0.8"/>
<line x1="62.5" y1="116.5" x2="65.7" y2="116.5" stroke="#1a1a1a" stroke-width="0.8"/>
<circle cx="64.1" cy="120.42" r="1.9" fill="#111"/>
<line x1="104.8" y1="125.74" x2="104.8" y2="120.14" stroke="#1a1a1a" stroke-width="0.8"/>
<line x1="103.2" y1="125.74" x2="106.4" y2="125.74" stroke="#1a1a1a" stroke-width="0.8"/>
<line x1="103.2" y1="120.14" x2="106.4" y2="120.14" stroke="#1a1a1a" stroke-width="0.8"/>
<circle cx="104.8" cy="122.94" r="1.9" fill="#111"/>
<line x1="73.1" y1="103.8" x2="79.1" y2="103.8" stroke="#1a1a1a" stroke-width="0.8"/>
<circle cx="76.1" cy="103.8" r="1.8" fill="#111"/>
<line x1="73.1" y1="111.3" x2="79.1" y2="111.3" stroke="#1a1a1a" stroke-width="0.8"/>
<path d="M74.2,109.78 L78,109.78 L76.1,113.39 Z" fill="#111"/>
<text x="82.6" y="106.1" font-size="7.3" font-weight="normal" text-anchor="start" fill="#111" >Apical</text>
<text x="82.6" y="113.6" font-size="7.3" font-weight="normal" text-anchor="start" fill="#111" >Basal</text>
<line x1="122.9" y1="94.37" x2="122.9" y2="152" stroke="#222" stroke-width="1.0"/>
<line x1="122.4" y1="151.5" x2="207.2" y2="151.5" stroke="#222" stroke-width="1.0"/>
<line x1="120.9" y1="99.5" x2="122.9" y2="99.5" stroke="#444" stroke-width="1.0"/>
<text x="120.6" y="101.25" font-size="5.0" font-weight="bold" text-anchor="end" fill="#111" style="stroke-width:0.3px" textLength="10" lengthAdjust="spacingAndGlyphs">200%</text>
<line x1="120.9" y1="112.5" x2="122.9" y2="112.5" stroke="#444" stroke-width="1.0"/>
<text x="120.6" y="114.25" font-size="5.0" font-weight="bold" text-anchor="end" fill="#111" style="stroke-width:0.3px" textLength="10" lengthAdjust="spacingAndGlyphs">150%</text>
<line x1="120.9" y1="125.5" x2="122.9" y2="125.5" stroke="#444" stroke-width="1.0"/>
<text x="120.6" y="127.25" font-size="5.0" font-weight="bold" text-anchor="end" fill="#111" style="stroke-width:0.3px" textLength="10" lengthAdjust="spacingAndGlyphs">100%</text>
<line x1="120.9" y1="138.5" x2="122.9" y2="138.5" stroke="#444" stroke-width="1.0"/>
<text x="120.6" y="140.25" font-size="5.0" font-weight="bold" text-anchor="end" fill="#111" style="stroke-width:0.3px" textLength="7.6" lengthAdjust="spacingAndGlyphs">50%</text>
<line x1="120.9" y1="151.5" x2="122.9" y2="151.5" stroke="#444" stroke-width="1.0"/>
<text x="120.6" y="153.25" font-size="5.0" font-weight="bold" text-anchor="end" fill="#111" style="stroke-width:0.3px" textLength="5.2" lengthAdjust="spacingAndGlyphs">0%</text>
<line x1="122.9" y1="151.5" x2="122.9" y2="153.5" stroke="#444" stroke-width="1.0"/>
<text x="122.9" y="158" font-size="4.7" font-weight="bold" text-anchor="middle" fill="#111" style="stroke-width:0.3px" textLength="5.6" lengthAdjust="spacingAndGlyphs">0 h</text>
<line x1="143.5" y1="151.5" x2="143.5" y2="153.5" stroke="#444" stroke-width="1.0"/>
<text x="143.5" y="158" font-size="4.7" font-weight="bold" text-anchor="middle" fill="#111" style="stroke-width:0.3px" textLength="5.6" lengthAdjust="spacingAndGlyphs">1 h</text>
<line x1="164.1" y1="151.5" x2="164.1" y2="153.5" stroke="#444" stroke-width="1.0"/>
<text x="164.1" y="158" font-size="4.7" font-weight="bold" text-anchor="middle" fill="#111" style="stroke-width:0.3px" textLength="5.6" lengthAdjust="spacingAndGlyphs">2 h</text>
<line x1="184.7" y1="151.5" x2="184.7" y2="153.5" stroke="#444" stroke-width="1.0"/>
<text x="184.7" y="158" font-size="4.7" font-weight="bold" text-anchor="middle" fill="#111" style="stroke-width:0.3px" textLength="5.6" lengthAdjust="spacingAndGlyphs">3 h</text>
<line x1="205.3" y1="151.5" x2="205.3" y2="153.5" stroke="#444" stroke-width="1.0"/>
<text x="205.3" y="158" font-size="4.7" font-weight="bold" text-anchor="middle" fill="#111" style="stroke-width:0.3px" textLength="5.6" lengthAdjust="spacingAndGlyphs">4 h</text>
<text x="164.8" y="92.6" font-size="6.9" font-weight="bold" text-anchor="middle" fill="#111" >MDCK-Bcrp1</text>
<text x="165.4" y="164.6" font-size="6.3" font-weight="bold" text-anchor="middle" fill="#111" >Time</text>
<polyline points="123.9,125.65 134.08,131.85 144.25,135.47 164.6,137.02 205.3,142.71" fill="none" stroke="#444" stroke-width="0.9"/>
<polyline points="123.9,125.65 134.08,120.22 144.25,120.48 164.6,103.94 205.3,95.66" fill="none" stroke="#222" stroke-width="0.9"/>
<path d="M121.8,123.97 L126,123.97 L123.9,127.96 Z" fill="#111"/>
<line x1="134.08" y1="135.21" x2="134.08" y2="128.49" stroke="#1a1a1a" stroke-width="0.8"/>
<line x1="132.48" y1="135.21" x2="135.68" y2="135.21" stroke="#1a1a1a" stroke-width="0.8"/>
<line x1="132.48" y1="128.49" x2="135.68" y2="128.49" stroke="#1a1a1a" stroke-width="0.8"/>
<path d="M131.98,130.17 L136.18,130.17 L134.08,134.16 Z" fill="#111"/>
<line x1="144.25" y1="136.25" x2="144.25" y2="134.7" stroke="#1a1a1a" stroke-width="0.8"/>
<line x1="142.65" y1="136.25" x2="145.85" y2="136.25" stroke="#1a1a1a" stroke-width="0.8"/>
<line x1="142.65" y1="134.7" x2="145.85" y2="134.7" stroke="#1a1a1a" stroke-width="0.8"/>
<path d="M142.15,133.79 L146.35,133.79 L144.25,137.78 Z" fill="#111"/>
<line x1="164.6" y1="139.61" x2="164.6" y2="134.44" stroke="#1a1a1a" stroke-width="0.8"/>
<line x1="163" y1="139.61" x2="166.2" y2="139.61" stroke="#1a1a1a" stroke-width="0.8"/>
<line x1="163" y1="134.44" x2="166.2" y2="134.44" stroke="#1a1a1a" stroke-width="0.8"/>
<path d="M162.5,135.34 L166.7,135.34 L164.6,139.33 Z" fill="#111"/>
<line x1="205.3" y1="143.49" x2="205.3" y2="141.94" stroke="#1a1a1a" stroke-width="0.8"/>
<line x1="203.7" y1="143.49" x2="206.9" y2="143.49" stroke="#1a1a1a" stroke-width="0.8"/>
<line x1="203.7" y1="141.94" x2="206.9" y2="141.94" stroke="#1a1a1a" stroke-width="0.8"/>
<path d="M203.2,141.03 L207.4,141.03 L205.3,145.02 Z" fill="#111"/>
<circle cx="123.9" cy="125.65" r="1.9" fill="#111"/>
<line x1="134.08" y1="123.58" x2="134.08" y2="116.86" stroke="#1a1a1a" stroke-width="0.8"/>
<line x1="132.48" y1="123.58" x2="135.68" y2="123.58" stroke="#1a1a1a" stroke-width="0.8"/>
<line x1="132.48" y1="116.86" x2="135.68" y2="116.86" stroke="#1a1a1a" stroke-width="0.8"/>
<circle cx="134.08" cy="120.22" r="1.9" fill="#111"/>
<line x1="144.25" y1="125.13" x2="144.25" y2="115.83" stroke="#1a1a1a" stroke-width="0.8"/>
<line x1="142.65" y1="125.13" x2="145.85" y2="125.13" stroke="#1a1a1a" stroke-width="0.8"/>
<line x1="142.65" y1="115.83" x2="145.85" y2="115.83" stroke="#1a1a1a" stroke-width="0.8"/>
<circle cx="144.25" cy="120.48" r="1.9" fill="#111"/>
<line x1="164.6" y1="107.04" x2="164.6" y2="100.83" stroke="#1a1a1a" stroke-width="0.8"/>
<line x1="163" y1="107.04" x2="166.2" y2="107.04" stroke="#1a1a1a" stroke-width="0.8"/>
<line x1="163" y1="100.83" x2="166.2" y2="100.83" stroke="#1a1a1a" stroke-width="0.8"/>
<circle cx="164.6" cy="103.94" r="1.9" fill="#111"/>
<line x1="205.3" y1="96.44" x2="205.3" y2="94.89" stroke="#1a1a1a" stroke-width="0.8"/>
<line x1="203.7" y1="96.44" x2="206.9" y2="96.44" stroke="#1a1a1a" stroke-width="0.8"/>
<line x1="203.7" y1="94.89" x2="206.9" y2="94.89" stroke="#1a1a1a" stroke-width="0.8"/>
<circle cx="205.3" cy="95.66" r="1.9" fill="#111"/>
<path d="M132.38,109.95 L132.83,110.87 L133.85,111.02 L133.11,111.74 L133.29,112.75 L132.38,112.28 L131.46,112.75 L131.64,111.74 L130.9,111.02 L131.92,110.87 Z M135.78,109.95 L136.23,110.87 L137.25,111.02 L136.51,111.74 L136.69,112.75 L135.78,112.28 L134.86,112.75 L135.04,111.74 L134.3,111.02 L135.32,110.87 Z" fill="#111"/>
<path d="M142.55,109.95 L143.01,110.87 L144.02,111.02 L143.29,111.74 L143.46,112.75 L142.55,112.28 L141.64,112.75 L141.81,111.74 L141.08,111.02 L142.09,110.87 Z M145.95,109.95 L146.41,110.87 L147.42,111.02 L146.69,111.74 L146.86,112.75 L145.95,112.28 L145.04,112.75 L145.21,111.74 L144.48,111.02 L145.49,110.87 Z" fill="#111"/>
<path d="M159.5,95.75 L159.96,96.67 L160.97,96.82 L160.24,97.54 L160.41,98.55 L159.5,98.08 L158.59,98.55 L158.76,97.54 L158.03,96.82 L159.04,96.67 Z M162.9,95.75 L163.36,96.67 L164.37,96.82 L163.64,97.54 L163.81,98.55 L162.9,98.08 L161.99,98.55 L162.16,97.54 L161.43,96.82 L162.44,96.67 Z M166.3,95.75 L166.76,96.67 L167.77,96.82 L167.04,97.54 L167.21,98.55 L166.3,98.08 L165.39,98.55 L165.56,97.54 L164.83,96.82 L165.84,96.67 Z M169.7,95.75 L170.16,96.67 L171.17,96.82 L170.44,97.54 L170.61,98.55 L169.7,98.08 L168.79,98.55 L168.96,97.54 L168.23,96.82 L169.24,96.67 Z" fill="#111"/>
<path d="M200.2,88.95 L200.66,89.87 L201.67,90.02 L200.94,90.74 L201.11,91.75 L200.2,91.28 L199.29,91.75 L199.46,90.74 L198.73,90.02 L199.74,89.87 Z M203.6,88.95 L204.06,89.87 L205.07,90.02 L204.34,90.74 L204.51,91.75 L203.6,91.28 L202.69,91.75 L202.86,90.74 L202.13,90.02 L203.14,89.87 Z M207,88.95 L207.46,89.87 L208.47,90.02 L207.74,90.74 L207.91,91.75 L207,91.28 L206.09,91.75 L206.26,90.74 L205.53,90.02 L206.54,89.87 Z M210.4,88.95 L210.86,89.87 L211.87,90.02 L211.14,90.74 L211.31,91.75 L210.4,91.28 L209.49,91.75 L209.66,90.74 L208.93,90.02 L209.94,89.87 Z" fill="#111"/>
<line x1="226.3" y1="95.5" x2="226.3" y2="152" stroke="#222" stroke-width="1.0"/>
<line x1="225.8" y1="151.5" x2="310.6" y2="151.5" stroke="#222" stroke-width="1.0"/>
<line x1="224.3" y1="95.5" x2="226.3" y2="95.5" stroke="#444" stroke-width="1.0"/>
<text x="224" y="97.25" font-size="5.0" font-weight="bold" text-anchor="end" fill="#111" style="stroke-width:0.3px" textLength="10" lengthAdjust="spacingAndGlyphs">200%</text>
<line x1="224.3" y1="109.5" x2="226.3" y2="109.5" stroke="#444" stroke-width="1.0"/>
<text x="224" y="111.25" font-size="5.0" font-weight="bold" text-anchor="end" fill="#111" style="stroke-width:0.3px" textLength="10" lengthAdjust="spacingAndGlyphs">150%</text>
<line x1="224.3" y1="123.5" x2="226.3" y2="123.5" stroke="#444" stroke-width="1.0"/>
<text x="224" y="125.25" font-size="5.0" font-weight="bold" text-anchor="end" fill="#111" style="stroke-width:0.3px" textLength="10" lengthAdjust="spacingAndGlyphs">100%</text>
<line x1="224.3" y1="137.5" x2="226.3" y2="137.5" stroke="#444" stroke-width="1.0"/>
<text x="224" y="139.25" font-size="5.0" font-weight="bold" text-anchor="end" fill="#111" style="stroke-width:0.3px" textLength="7.6" lengthAdjust="spacingAndGlyphs">50%</text>
<line x1="224.3" y1="151.5" x2="226.3" y2="151.5" stroke="#444" stroke-width="1.0"/>
<text x="224" y="153.25" font-size="5.0" font-weight="bold" text-anchor="end" fill="#111" style="stroke-width:0.3px" textLength="5.2" lengthAdjust="spacingAndGlyphs">0%</text>
<line x1="226.3" y1="151.5" x2="226.3" y2="153.5" stroke="#444" stroke-width="1.0"/>
<text x="226.3" y="158" font-size="4.7" font-weight="bold" text-anchor="middle" fill="#111" style="stroke-width:0.3px" textLength="5.6" lengthAdjust="spacingAndGlyphs">0 h</text>
<line x1="246.9" y1="151.5" x2="246.9" y2="153.5" stroke="#444" stroke-width="1.0"/>
<text x="246.9" y="158" font-size="4.7" font-weight="bold" text-anchor="middle" fill="#111" style="stroke-width:0.3px" textLength="5.6" lengthAdjust="spacingAndGlyphs">1 h</text>
<line x1="267.5" y1="151.5" x2="267.5" y2="153.5" stroke="#444" stroke-width="1.0"/>
<text x="267.5" y="158" font-size="4.7" font-weight="bold" text-anchor="middle" fill="#111" style="stroke-width:0.3px" textLength="5.6" lengthAdjust="spacingAndGlyphs">2 h</text>
<line x1="288.1" y1="151.5" x2="288.1" y2="153.5" stroke="#444" stroke-width="1.0"/>
<text x="288.1" y="158" font-size="4.7" font-weight="bold" text-anchor="middle" fill="#111" style="stroke-width:0.3px" textLength="5.6" lengthAdjust="spacingAndGlyphs">3 h</text>
<line x1="308.7" y1="151.5" x2="308.7" y2="153.5" stroke="#444" stroke-width="1.0"/>
<text x="308.7" y="158" font-size="4.7" font-weight="bold" text-anchor="middle" fill="#111" style="stroke-width:0.3px" textLength="5.6" lengthAdjust="spacingAndGlyphs">4 h</text>
<text x="267.7" y="92.6" font-size="6.9" font-weight="bold" text-anchor="middle" fill="#111" >MDCK-Bcrp1 + elacridar</text>
<text x="268.3" y="164.6" font-size="6.3" font-weight="bold" text-anchor="middle" fill="#111" >Time</text>
<polyline points="227.3,123.5 237.48,126.3 247.65,124.9 268,125.46 308.7,126.3" fill="none" stroke="#444" stroke-width="0.9"/>
<polyline points="227.3,123.5 237.48,124.34 247.65,118.18 268,117.34 308.7,113.98" fill="none" stroke="#222" stroke-width="0.9"/>
<path d="M225.2,121.82 L229.4,121.82 L227.3,125.81 Z" fill="#111"/>
<line x1="237.48" y1="127.14" x2="237.48" y2="125.46" stroke="#1a1a1a" stroke-width="0.8"/>
<line x1="235.88" y1="127.14" x2="239.08" y2="127.14" stroke="#1a1a1a" stroke-width="0.8"/>
<line x1="235.88" y1="125.46" x2="239.08" y2="125.46" stroke="#1a1a1a" stroke-width="0.8"/>
<path d="M235.38,124.62 L239.58,124.62 L237.48,128.61 Z" fill="#111"/>
<line x1="247.65" y1="125.74" x2="247.65" y2="124.06" stroke="#1a1a1a" stroke-width="0.8"/>
<line x1="246.05" y1="125.74" x2="249.25" y2="125.74" stroke="#1a1a1a" stroke-width="0.8"/>
<line x1="246.05" y1="124.06" x2="249.25" y2="124.06" stroke="#1a1a1a" stroke-width="0.8"/>
<path d="M245.55,123.22 L249.75,123.22 L247.65,127.21 Z" fill="#111"/>
<line x1="268" y1="126.3" x2="268" y2="124.62" stroke="#1a1a1a" stroke-width="0.8"/>
<line x1="266.4" y1="126.3" x2="269.6" y2="126.3" stroke="#1a1a1a" stroke-width="0.8"/>
<line x1="266.4" y1="124.62" x2="269.6" y2="124.62" stroke="#1a1a1a" stroke-width="0.8"/>
<path d="M265.9,123.78 L270.1,123.78 L268,127.77 Z" fill="#111"/>
<line x1="308.7" y1="127.14" x2="308.7" y2="125.46" stroke="#1a1a1a" stroke-width="0.8"/>
<line x1="307.1" y1="127.14" x2="310.3" y2="127.14" stroke="#1a1a1a" stroke-width="0.8"/>
<line x1="307.1" y1="125.46" x2="310.3" y2="125.46" stroke="#1a1a1a" stroke-width="0.8"/>
<path d="M306.6,124.62 L310.8,124.62 L308.7,128.61 Z" fill="#111"/>
<circle cx="227.3" cy="123.5" r="1.9" fill="#111"/>
<line x1="237.48" y1="125.18" x2="237.48" y2="123.5" stroke="#1a1a1a" stroke-width="0.8"/>
<line x1="235.88" y1="125.18" x2="239.08" y2="125.18" stroke="#1a1a1a" stroke-width="0.8"/>
<line x1="235.88" y1="123.5" x2="239.08" y2="123.5" stroke="#1a1a1a" stroke-width="0.8"/>
<circle cx="237.48" cy="124.34" r="1.9" fill="#111"/>
<line x1="247.65" y1="119.02" x2="247.65" y2="117.34" stroke="#1a1a1a" stroke-width="0.8"/>
<line x1="246.05" y1="119.02" x2="249.25" y2="119.02" stroke="#1a1a1a" stroke-width="0.8"/>
<line x1="246.05" y1="117.34" x2="249.25" y2="117.34" stroke="#1a1a1a" stroke-width="0.8"/>
<circle cx="247.65" cy="118.18" r="1.9" fill="#111"/>
<line x1="268" y1="120.14" x2="268" y2="114.54" stroke="#1a1a1a" stroke-width="0.8"/>
<line x1="266.4" y1="120.14" x2="269.6" y2="120.14" stroke="#1a1a1a" stroke-width="0.8"/>
<line x1="266.4" y1="114.54" x2="269.6" y2="114.54" stroke="#1a1a1a" stroke-width="0.8"/>
<circle cx="268" cy="117.34" r="1.9" fill="#111"/>
<line x1="308.7" y1="117.34" x2="308.7" y2="110.62" stroke="#1a1a1a" stroke-width="0.8"/>
<line x1="307.1" y1="117.34" x2="310.3" y2="117.34" stroke="#1a1a1a" stroke-width="0.8"/>
<line x1="307.1" y1="110.62" x2="310.3" y2="110.62" stroke="#1a1a1a" stroke-width="0.8"/>
<circle cx="308.7" cy="113.98" r="1.9" fill="#111"/>
<path d="M245.95,110.45 L246.41,111.37 L247.42,111.52 L246.69,112.24 L246.86,113.25 L245.95,112.78 L245.04,113.25 L245.21,112.24 L244.48,111.52 L245.49,111.37 Z M249.35,110.45 L249.81,111.37 L250.82,111.52 L250.09,112.24 L250.26,113.25 L249.35,112.78 L248.44,113.25 L248.61,112.24 L247.88,111.52 L248.89,111.37 Z" fill="#111"/>
<path d="M266.3,110.45 L266.76,111.37 L267.77,111.52 L267.04,112.24 L267.21,113.25 L266.3,112.78 L265.39,113.25 L265.56,112.24 L264.83,111.52 L265.84,111.37 Z M269.7,110.45 L270.16,111.37 L271.17,111.52 L270.44,112.24 L270.61,113.25 L269.7,112.78 L268.79,113.25 L268.96,112.24 L268.23,111.52 L269.24,111.37 Z" fill="#111"/>
<path d="M303.6,105.45 L304.06,106.37 L305.07,106.52 L304.34,107.24 L304.51,108.25 L303.6,107.78 L302.69,108.25 L302.86,107.24 L302.13,106.52 L303.14,106.37 Z M307,105.45 L307.46,106.37 L308.47,106.52 L307.74,107.24 L307.91,108.25 L307,107.78 L306.09,108.25 L306.26,107.24 L305.53,106.52 L306.54,106.37 Z M310.4,105.45 L310.86,106.37 L311.87,106.52 L311.14,107.24 L311.31,108.25 L310.4,107.78 L309.49,108.25 L309.66,107.24 L308.93,106.52 L309.94,106.37 Z M313.8,105.45 L314.26,106.37 L315.27,106.52 L314.54,107.24 L314.71,108.25 L313.8,107.78 L312.89,108.25 L313.06,107.24 L312.33,106.52 L313.34,106.37 Z" fill="#111"/>
<line x1="326.3" y1="95.5" x2="326.3" y2="152" stroke="#222" stroke-width="1.0"/>
<line x1="325.8" y1="151.5" x2="410.6" y2="151.5" stroke="#222" stroke-width="1.0"/>
<line x1="324.3" y1="95.5" x2="326.3" y2="95.5" stroke="#444" stroke-width="1.0"/>
<text x="324" y="97.25" font-size="5.0" font-weight="bold" text-anchor="end" fill="#111" style="stroke-width:0.3px" textLength="10" lengthAdjust="spacingAndGlyphs">200%</text>
<line x1="324.3" y1="109.5" x2="326.3" y2="109.5" stroke="#444" stroke-width="1.0"/>
<text x="324" y="111.25" font-size="5.0" font-weight="bold" text-anchor="end" fill="#111" style="stroke-width:0.3px" textLength="10" lengthAdjust="spacingAndGlyphs">150%</text>
<line x1="324.3" y1="123.5" x2="326.3" y2="123.5" stroke="#444" stroke-width="1.0"/>
<text x="324" y="125.25" font-size="5.0" font-weight="bold" text-anchor="end" fill="#111" style="stroke-width:0.3px" textLength="10" lengthAdjust="spacingAndGlyphs">100%</text>
<line x1="324.3" y1="137.5" x2="326.3" y2="137.5" stroke="#444" stroke-width="1.0"/>
<text x="324" y="139.25" font-size="5.0" font-weight="bold" text-anchor="end" fill="#111" style="stroke-width:0.3px" textLength="7.6" lengthAdjust="spacingAndGlyphs">50%</text>
<line x1="324.3" y1="151.5" x2="326.3" y2="151.5" stroke="#444" stroke-width="1.0"/>
<text x="324" y="153.25" font-size="5.0" font-weight="bold" text-anchor="end" fill="#111" style="stroke-width:0.3px" textLength="5.2" lengthAdjust="spacingAndGlyphs">0%</text>
<line x1="326.3" y1="151.5" x2="326.3" y2="153.5" stroke="#444" stroke-width="1.0"/>
<text x="326.3" y="158" font-size="4.7" font-weight="bold" text-anchor="middle" fill="#111" style="stroke-width:0.3px" textLength="5.6" lengthAdjust="spacingAndGlyphs">0 h</text>
<line x1="346.9" y1="151.5" x2="346.9" y2="153.5" stroke="#444" stroke-width="1.0"/>
<text x="346.9" y="158" font-size="4.7" font-weight="bold" text-anchor="middle" fill="#111" style="stroke-width:0.3px" textLength="5.6" lengthAdjust="spacingAndGlyphs">1 h</text>
<line x1="367.5" y1="151.5" x2="367.5" y2="153.5" stroke="#444" stroke-width="1.0"/>
<text x="367.5" y="158" font-size="4.7" font-weight="bold" text-anchor="middle" fill="#111" style="stroke-width:0.3px" textLength="5.6" lengthAdjust="spacingAndGlyphs">2 h</text>
<line x1="388.1" y1="151.5" x2="388.1" y2="153.5" stroke="#444" stroke-width="1.0"/>
<text x="388.1" y="158" font-size="4.7" font-weight="bold" text-anchor="middle" fill="#111" style="stroke-width:0.3px" textLength="5.6" lengthAdjust="spacingAndGlyphs">3 h</text>
<line x1="408.7" y1="151.5" x2="408.7" y2="153.5" stroke="#444" stroke-width="1.0"/>
<text x="408.7" y="158" font-size="4.7" font-weight="bold" text-anchor="middle" fill="#111" style="stroke-width:0.3px" textLength="5.6" lengthAdjust="spacingAndGlyphs">4 h</text>
<text x="367.2" y="92.6" font-size="6.9" font-weight="bold" text-anchor="middle" fill="#111" >MDCK-BCRP</text>
<text x="367.8" y="164.6" font-size="6.3" font-weight="bold" text-anchor="middle" fill="#111" >Time</text>
<polyline points="327.3,123.5 337.48,120.98 347.65,119.58 368,127.14 408.7,123.5" fill="none" stroke="#444" stroke-width="0.9"/>
<polyline points="327.3,123.5 337.48,120.98 347.65,118.74 368,118.74 408.7,112.02" fill="none" stroke="#222" stroke-width="0.9"/>
<path d="M325.2,121.82 L329.4,121.82 L327.3,125.81 Z" fill="#111"/>
<line x1="337.48" y1="124.9" x2="337.48" y2="117.06" stroke="#1a1a1a" stroke-width="0.8"/>
<line x1="335.88" y1="124.9" x2="339.08" y2="124.9" stroke="#1a1a1a" stroke-width="0.8"/>
<line x1="335.88" y1="117.06" x2="339.08" y2="117.06" stroke="#1a1a1a" stroke-width="0.8"/>
<path d="M335.38,119.3 L339.58,119.3 L337.48,123.29 Z" fill="#111"/>
<line x1="347.65" y1="125.18" x2="347.65" y2="113.98" stroke="#1a1a1a" stroke-width="0.8"/>
<line x1="346.05" y1="125.18" x2="349.25" y2="125.18" stroke="#1a1a1a" stroke-width="0.8"/>
<line x1="346.05" y1="113.98" x2="349.25" y2="113.98" stroke="#1a1a1a" stroke-width="0.8"/>
<path d="M345.55,117.9 L349.75,117.9 L347.65,121.89 Z" fill="#111"/>
<line x1="368" y1="127.98" x2="368" y2="126.3" stroke="#1a1a1a" stroke-width="0.8"/>
<line x1="366.4" y1="127.98" x2="369.6" y2="127.98" stroke="#1a1a1a" stroke-width="0.8"/>
<line x1="366.4" y1="126.3" x2="369.6" y2="126.3" stroke="#1a1a1a" stroke-width="0.8"/>
<path d="M365.9,125.46 L370.1,125.46 L368,129.45 Z" fill="#111"/>
<line x1="408.7" y1="124.62" x2="408.7" y2="122.38" stroke="#1a1a1a" stroke-width="0.8"/>
<line x1="407.1" y1="124.62" x2="410.3" y2="124.62" stroke="#1a1a1a" stroke-width="0.8"/>
<line x1="407.1" y1="122.38" x2="410.3" y2="122.38" stroke="#1a1a1a" stroke-width="0.8"/>
<path d="M406.6,121.82 L410.8,121.82 L408.7,125.81 Z" fill="#111"/>
<circle cx="327.3" cy="123.5" r="1.9" fill="#111"/>
<line x1="337.48" y1="124.9" x2="337.48" y2="117.06" stroke="#1a1a1a" stroke-width="0.8"/>
<line x1="335.88" y1="124.9" x2="339.08" y2="124.9" stroke="#1a1a1a" stroke-width="0.8"/>
<line x1="335.88" y1="117.06" x2="339.08" y2="117.06" stroke="#1a1a1a" stroke-width="0.8"/>
<circle cx="337.48" cy="120.98" r="1.9" fill="#111"/>
<line x1="347.65" y1="124.34" x2="347.65" y2="113.14" stroke="#1a1a1a" stroke-width="0.8"/>
<line x1="346.05" y1="124.34" x2="349.25" y2="124.34" stroke="#1a1a1a" stroke-width="0.8"/>
<line x1="346.05" y1="113.14" x2="349.25" y2="113.14" stroke="#1a1a1a" stroke-width="0.8"/>
<circle cx="347.65" cy="118.74" r="1.9" fill="#111"/>
<line x1="368" y1="121.82" x2="368" y2="115.66" stroke="#1a1a1a" stroke-width="0.8"/>
<line x1="366.4" y1="121.82" x2="369.6" y2="121.82" stroke="#1a1a1a" stroke-width="0.8"/>
<line x1="366.4" y1="115.66" x2="369.6" y2="115.66" stroke="#1a1a1a" stroke-width="0.8"/>
<circle cx="368" cy="118.74" r="1.9" fill="#111"/>
<line x1="408.7" y1="112.86" x2="408.7" y2="111.18" stroke="#1a1a1a" stroke-width="0.8"/>
<line x1="407.1" y1="112.86" x2="410.3" y2="112.86" stroke="#1a1a1a" stroke-width="0.8"/>
<line x1="407.1" y1="111.18" x2="410.3" y2="111.18" stroke="#1a1a1a" stroke-width="0.8"/>
<circle cx="408.7" cy="112.02" r="1.9" fill="#111"/>
<path d="M368,107.95 L368.46,108.87 L369.47,109.02 L368.74,109.74 L368.91,110.75 L368,110.28 L367.09,110.75 L367.26,109.74 L366.53,109.02 L367.54,108.87 Z" fill="#111"/>
<path d="M407,101.85 L407.46,102.77 L408.47,102.92 L407.74,103.64 L407.91,104.65 L407,104.18 L406.09,104.65 L406.26,103.64 L405.53,102.92 L406.54,102.77 Z M410.4,101.85 L410.86,102.77 L411.87,102.92 L411.14,103.64 L411.31,104.65 L410.4,104.18 L409.49,104.65 L409.66,103.64 L408.93,102.92 L409.94,102.77 Z" fill="#111"/>
<line x1="426.3" y1="95.5" x2="426.3" y2="152" stroke="#222" stroke-width="1.0"/>
<line x1="425.8" y1="151.5" x2="510.6" y2="151.5" stroke="#222" stroke-width="1.0"/>
<line x1="424.3" y1="95.5" x2="426.3" y2="95.5" stroke="#444" stroke-width="1.0"/>
<text x="424" y="97.25" font-size="5.0" font-weight="bold" text-anchor="end" fill="#111" style="stroke-width:0.3px" textLength="10" lengthAdjust="spacingAndGlyphs">200%</text>
<line x1="424.3" y1="109.5" x2="426.3" y2="109.5" stroke="#444" stroke-width="1.0"/>
<text x="424" y="111.25" font-size="5.0" font-weight="bold" text-anchor="end" fill="#111" style="stroke-width:0.3px" textLength="10" lengthAdjust="spacingAndGlyphs">150%</text>
<line x1="424.3" y1="123.5" x2="426.3" y2="123.5" stroke="#444" stroke-width="1.0"/>
<text x="424" y="125.25" font-size="5.0" font-weight="bold" text-anchor="end" fill="#111" style="stroke-width:0.3px" textLength="10" lengthAdjust="spacingAndGlyphs">100%</text>
<line x1="424.3" y1="137.5" x2="426.3" y2="137.5" stroke="#444" stroke-width="1.0"/>
<text x="424" y="139.25" font-size="5.0" font-weight="bold" text-anchor="end" fill="#111" style="stroke-width:0.3px" textLength="7.6" lengthAdjust="spacingAndGlyphs">50%</text>
<line x1="424.3" y1="151.5" x2="426.3" y2="151.5" stroke="#444" stroke-width="1.0"/>
<text x="424" y="153.25" font-size="5.0" font-weight="bold" text-anchor="end" fill="#111" style="stroke-width:0.3px" textLength="5.2" lengthAdjust="spacingAndGlyphs">0%</text>
<line x1="426.3" y1="151.5" x2="426.3" y2="153.5" stroke="#444" stroke-width="1.0"/>
<text x="426.3" y="158" font-size="4.7" font-weight="bold" text-anchor="middle" fill="#111" style="stroke-width:0.3px" textLength="5.6" lengthAdjust="spacingAndGlyphs">0 h</text>
<line x1="446.9" y1="151.5" x2="446.9" y2="153.5" stroke="#444" stroke-width="1.0"/>
<text x="446.9" y="158" font-size="4.7" font-weight="bold" text-anchor="middle" fill="#111" style="stroke-width:0.3px" textLength="5.6" lengthAdjust="spacingAndGlyphs">1 h</text>
<line x1="467.5" y1="151.5" x2="467.5" y2="153.5" stroke="#444" stroke-width="1.0"/>
<text x="467.5" y="158" font-size="4.7" font-weight="bold" text-anchor="middle" fill="#111" style="stroke-width:0.3px" textLength="5.6" lengthAdjust="spacingAndGlyphs">2 h</text>
<line x1="488.1" y1="151.5" x2="488.1" y2="153.5" stroke="#444" stroke-width="1.0"/>
<text x="488.1" y="158" font-size="4.7" font-weight="bold" text-anchor="middle" fill="#111" style="stroke-width:0.3px" textLength="5.6" lengthAdjust="spacingAndGlyphs">3 h</text>
<line x1="508.7" y1="151.5" x2="508.7" y2="153.5" stroke="#444" stroke-width="1.0"/>
<text x="508.7" y="158" font-size="4.7" font-weight="bold" text-anchor="middle" fill="#111" style="stroke-width:0.3px" textLength="5.6" lengthAdjust="spacingAndGlyphs">4 h</text>
<text x="467.7" y="92.6" font-size="6.9" font-weight="bold" text-anchor="middle" fill="#111" >MDCK-BCRP + elacridar</text>
<text x="467.8" y="164.6" font-size="6.3" font-weight="bold" text-anchor="middle" fill="#111" >Time</text>
<polyline points="427.3,123.5 437.48,126.3 447.65,122.38 468,121.82 508.7,112.86" fill="none" stroke="#444" stroke-width="0.9"/>
<polyline points="427.3,123.5 437.48,126.3 447.65,122.38 468,120.98 508.7,112.3" fill="none" stroke="#222" stroke-width="0.9"/>
<path d="M425.2,121.82 L429.4,121.82 L427.3,125.81 Z" fill="#111"/>
<line x1="437.48" y1="127.14" x2="437.48" y2="125.46" stroke="#1a1a1a" stroke-width="0.8"/>
<line x1="435.88" y1="127.14" x2="439.08" y2="127.14" stroke="#1a1a1a" stroke-width="0.8"/>
<line x1="435.88" y1="125.46" x2="439.08" y2="125.46" stroke="#1a1a1a" stroke-width="0.8"/>
<path d="M435.38,124.62 L439.58,124.62 L437.48,128.61 Z" fill="#111"/>
<line x1="447.65" y1="123.22" x2="447.65" y2="121.54" stroke="#1a1a1a" stroke-width="0.8"/>
<line x1="446.05" y1="123.22" x2="449.25" y2="123.22" stroke="#1a1a1a" stroke-width="0.8"/>
<line x1="446.05" y1="121.54" x2="449.25" y2="121.54" stroke="#1a1a1a" stroke-width="0.8"/>
<path d="M445.55,120.7 L449.75,120.7 L447.65,124.69 Z" fill="#111"/>
<line x1="468" y1="122.66" x2="468" y2="120.98" stroke="#1a1a1a" stroke-width="0.8"/>
<line x1="466.4" y1="122.66" x2="469.6" y2="122.66" stroke="#1a1a1a" stroke-width="0.8"/>
<line x1="466.4" y1="120.98" x2="469.6" y2="120.98" stroke="#1a1a1a" stroke-width="0.8"/>
<path d="M465.9,120.14 L470.1,120.14 L468,124.13 Z" fill="#111"/>
<line x1="508.7" y1="113.7" x2="508.7" y2="112.02" stroke="#1a1a1a" stroke-width="0.8"/>
<line x1="507.1" y1="113.7" x2="510.3" y2="113.7" stroke="#1a1a1a" stroke-width="0.8"/>
<line x1="507.1" y1="112.02" x2="510.3" y2="112.02" stroke="#1a1a1a" stroke-width="0.8"/>
<path d="M506.6,111.18 L510.8,111.18 L508.7,115.17 Z" fill="#111"/>
<circle cx="427.3" cy="123.5" r="1.9" fill="#111"/>
<line x1="437.48" y1="127.14" x2="437.48" y2="125.46" stroke="#1a1a1a" stroke-width="0.8"/>
<line x1="435.88" y1="127.14" x2="439.08" y2="127.14" stroke="#1a1a1a" stroke-width="0.8"/>
<line x1="435.88" y1="125.46" x2="439.08" y2="125.46" stroke="#1a1a1a" stroke-width="0.8"/>
<circle cx="437.48" cy="126.3" r="1.9" fill="#111"/>
<line x1="447.65" y1="123.22" x2="447.65" y2="121.54" stroke="#1a1a1a" stroke-width="0.8"/>
<line x1="446.05" y1="123.22" x2="449.25" y2="123.22" stroke="#1a1a1a" stroke-width="0.8"/>
<line x1="446.05" y1="121.54" x2="449.25" y2="121.54" stroke="#1a1a1a" stroke-width="0.8"/>
<circle cx="447.65" cy="122.38" r="1.9" fill="#111"/>
<line x1="468" y1="122.38" x2="468" y2="119.58" stroke="#1a1a1a" stroke-width="0.8"/>
<line x1="466.4" y1="122.38" x2="469.6" y2="122.38" stroke="#1a1a1a" stroke-width="0.8"/>
<line x1="466.4" y1="119.58" x2="469.6" y2="119.58" stroke="#1a1a1a" stroke-width="0.8"/>
<circle cx="468" cy="120.98" r="1.9" fill="#111"/>
<line x1="508.7" y1="116.78" x2="508.7" y2="107.82" stroke="#1a1a1a" stroke-width="0.8"/>
<line x1="507.1" y1="116.78" x2="510.3" y2="116.78" stroke="#1a1a1a" stroke-width="0.8"/>
<line x1="507.1" y1="107.82" x2="510.3" y2="107.82" stroke="#1a1a1a" stroke-width="0.8"/>
<circle cx="508.7" cy="112.3" r="1.9" fill="#111"/>
<line x1="39.5" y1="194" x2="39.5" y2="282" stroke="#111" stroke-width="1.0"/>
<line x1="39" y1="281.5" x2="171" y2="281.5" stroke="#111" stroke-width="1.0"/>
<line x1="37" y1="281.5" x2="39.5" y2="281.5" stroke="#111" stroke-width="1.0"/>
<text x="36.5" y="283.1" font-size="6.5" font-weight="bold" text-anchor="end" fill="#111" style="stroke-width:0.4px">0</text>
<line x1="37" y1="264.1" x2="39.5" y2="264.1" stroke="#111" stroke-width="1.0"/>
<text x="36.5" y="265.7" font-size="6.5" font-weight="bold" text-anchor="end" fill="#111" style="stroke-width:0.4px">2,000</text>
<line x1="37" y1="246.7" x2="39.5" y2="246.7" stroke="#111" stroke-width="1.0"/>
<text x="36.5" y="248.3" font-size="6.5" font-weight="bold" text-anchor="end" fill="#111" style="stroke-width:0.4px">4,000</text>
<line x1="37" y1="229.3" x2="39.5" y2="229.3" stroke="#111" stroke-width="1.0"/>
<text x="36.5" y="230.9" font-size="6.5" font-weight="bold" text-anchor="end" fill="#111" style="stroke-width:0.4px">6,000</text>
<line x1="37" y1="211.9" x2="39.5" y2="211.9" stroke="#111" stroke-width="1.0"/>
<text x="36.5" y="213.5" font-size="6.5" font-weight="bold" text-anchor="end" fill="#111" style="stroke-width:0.4px">8,000</text>
<line x1="37" y1="194.5" x2="39.5" y2="194.5" stroke="#111" stroke-width="1.0"/>
<text x="36.5" y="196.1" font-size="6.5" font-weight="bold" text-anchor="end" fill="#111" style="stroke-width:0.4px">10,000</text>
<text x="106.2" y="180.7" font-size="8.7" font-weight="bold" text-anchor="middle" fill="#111" style="stroke-width:0.4px">Plasma</text>
<text x="0" y="0" font-size="8.7" font-weight="bold" text-anchor="middle" fill="#111" transform="translate(11.6,233.6) rotate(-90)">[AZD8055] (nmol/L)</text>
<line x1="56.5" y1="252.5" x2="56.5" y2="257.5" stroke="#111" stroke-width="1.0"/>
<line x1="50.5" y1="252.5" x2="62.5" y2="252.5" stroke="#111" stroke-width="1.0"/>
<rect x="44.5" y="257.5" width="24" height="24" fill="#fff" stroke="#111" stroke-width="1"/>
<line x1="56.5" y1="281.5" x2="56.5" y2="284" stroke="#111" stroke-width="1.0"/>
<line x1="85.5" y1="207.5" x2="85.5" y2="217.5" stroke="#111" stroke-width="1.0"/>
<line x1="79.5" y1="207.5" x2="91.5" y2="207.5" stroke="#111" stroke-width="1.0"/>
<rect x="73.5" y="217.5" width="23" height="64" fill="url(#diag)" stroke="#111" stroke-width="1"/>
<line x1="85.5" y1="281.5" x2="85.5" y2="284" stroke="#111" stroke-width="1.0"/>
<path d="M78.05,192 L78.81,193.55 L80.52,193.8 L79.29,195 L79.58,196.7 L78.05,195.9 L76.52,196.7 L76.81,195 L75.58,193.8 L77.29,193.55 Z M83.35,192 L84.11,193.55 L85.82,193.8 L84.59,195 L84.88,196.7 L83.35,195.9 L81.82,196.7 L82.11,195 L80.88,193.8 L82.59,193.55 Z M88.65,192 L89.41,193.55 L91.12,193.8 L89.89,195 L90.18,196.7 L88.65,195.9 L87.12,196.7 L87.41,195 L86.18,193.8 L87.89,193.55 Z M93.95,192 L94.71,193.55 L96.42,193.8 L95.19,195 L95.48,196.7 L93.95,195.9 L92.42,196.7 L92.71,195 L91.48,193.8 L93.19,193.55 Z" fill="#111"/>
<line x1="119.5" y1="202.5" x2="119.5" y2="207.5" stroke="#111" stroke-width="1.0"/>
<line x1="113.5" y1="202.5" x2="125.5" y2="202.5" stroke="#111" stroke-width="1.0"/>
<rect x="107.5" y="207.5" width="23" height="74" fill="url(#horiz)" stroke="#111" stroke-width="1"/>
<line x1="119.5" y1="281.5" x2="119.5" y2="284" stroke="#111" stroke-width="1.0"/>
<path d="M112.05,187.6 L112.81,189.15 L114.52,189.4 L113.29,190.6 L113.58,192.3 L112.05,191.5 L110.52,192.3 L110.81,190.6 L109.58,189.4 L111.29,189.15 Z M117.35,187.6 L118.11,189.15 L119.82,189.4 L118.59,190.6 L118.88,192.3 L117.35,191.5 L115.82,192.3 L116.11,190.6 L114.88,189.4 L116.59,189.15 Z M122.65,187.6 L123.41,189.15 L125.12,189.4 L123.89,190.6 L124.18,192.3 L122.65,191.5 L121.12,192.3 L121.41,190.6 L120.18,189.4 L121.89,189.15 Z M127.95,187.6 L128.71,189.15 L130.42,189.4 L129.19,190.6 L129.48,192.3 L127.95,191.5 L126.42,192.3 L126.71,190.6 L125.48,189.4 L127.19,189.15 Z" fill="#111"/>
<line x1="153.5" y1="202.5" x2="153.5" y2="207.5" stroke="#111" stroke-width="1.0"/>
<line x1="147.5" y1="202.5" x2="159.5" y2="202.5" stroke="#111" stroke-width="1.0"/>
<rect x="141.5" y="207.5" width="24" height="74" fill="#000" stroke="#111" stroke-width="1"/>
<line x1="153.5" y1="281.5" x2="153.5" y2="284" stroke="#111" stroke-width="1.0"/>
<path d="M146.05,187.6 L146.81,189.15 L148.52,189.4 L147.29,190.6 L147.58,192.3 L146.05,191.5 L144.52,192.3 L144.81,190.6 L143.58,189.4 L145.29,189.15 Z M151.35,187.6 L152.11,189.15 L153.82,189.4 L152.59,190.6 L152.88,192.3 L151.35,191.5 L149.82,192.3 L150.11,190.6 L148.88,189.4 L150.59,189.15 Z M156.65,187.6 L157.41,189.15 L159.12,189.4 L157.89,190.6 L158.18,192.3 L156.65,191.5 L155.12,192.3 L155.41,190.6 L154.18,189.4 L155.89,189.15 Z M161.95,187.6 L162.71,189.15 L164.42,189.4 L163.19,190.6 L163.48,192.3 L161.95,191.5 L160.42,192.3 L160.71,190.6 L159.48,189.4 L161.19,189.15 Z" fill="#111"/>
<g transform="translate(58.9,290.7) rotate(-45)">
<text x="0" y="0" font-size="8.3" text-anchor="end" fill="#111" style="stroke-width:0.33px">WT</text>
</g>
<g transform="translate(87.2,290.7) rotate(-45)">
<text x="0" y="0" font-size="8.3" text-anchor="end" fill="#111" style="stroke-width:0.33px">Abcb1a/b<tspan font-size="6" dy="-3">&#8211;/&#8211;</tspan></text>
</g>
<g transform="translate(121.3,290.7) rotate(-45)">
<text x="0" y="0" font-size="8.3" text-anchor="end" fill="#111" style="stroke-width:0.33px">Abcg2<tspan font-size="6" dy="-3">&#8211;/&#8211;</tspan></text>
</g>
<g transform="translate(155.9,290.7) rotate(-45)">
<text x="-2.6" y="0" font-size="8.3" text-anchor="end" fill="#111" style="stroke-width:0.33px">Abcb1a/b;</text>
<text x="-5.3" y="9.2" font-size="8.3" text-anchor="end" fill="#111" style="stroke-width:0.33px">Abcg2<tspan font-size="6" dy="-3">&#8211;/&#8211;</tspan></text>
</g>
<line x1="216.5" y1="193.3" x2="216.5" y2="281.5" stroke="#111" stroke-width="1.0"/>
<line x1="216" y1="281" x2="347" y2="281" stroke="#111" stroke-width="1.0"/>
<line x1="214" y1="281" x2="216.5" y2="281" stroke="#111" stroke-width="1.0"/>
<text x="213.5" y="282.6" font-size="6.5" font-weight="bold" text-anchor="end" fill="#111" style="stroke-width:0.4px">0</text>
<line x1="214" y1="263.56" x2="216.5" y2="263.56" stroke="#111" stroke-width="1.0"/>
<text x="213.5" y="265.16" font-size="6.5" font-weight="bold" text-anchor="end" fill="#111" style="stroke-width:0.4px">2,000</text>
<line x1="214" y1="246.12" x2="216.5" y2="246.12" stroke="#111" stroke-width="1.0"/>
<text x="213.5" y="247.72" font-size="6.5" font-weight="bold" text-anchor="end" fill="#111" style="stroke-width:0.4px">4,000</text>
<line x1="214" y1="228.68" x2="216.5" y2="228.68" stroke="#111" stroke-width="1.0"/>
<text x="213.5" y="230.28" font-size="6.5" font-weight="bold" text-anchor="end" fill="#111" style="stroke-width:0.4px">6,000</text>
<line x1="214" y1="211.24" x2="216.5" y2="211.24" stroke="#111" stroke-width="1.0"/>
<text x="213.5" y="212.84" font-size="6.5" font-weight="bold" text-anchor="end" fill="#111" style="stroke-width:0.4px">8,000</text>
<line x1="214" y1="193.8" x2="216.5" y2="193.8" stroke="#111" stroke-width="1.0"/>
<text x="213.5" y="195.4" font-size="6.5" font-weight="bold" text-anchor="end" fill="#111" style="stroke-width:0.4px">10,000</text>
<text x="282.5" y="181.2" font-size="8.7" font-weight="bold" text-anchor="middle" fill="#111" style="stroke-width:0.4px">Brain</text>
<text x="0" y="0" font-size="8.7" font-weight="bold" text-anchor="middle" fill="#111" transform="translate(189,236) rotate(-90)">[AZD8055] (nmol/L)</text>
<line x1="232.5" y1="269.5" x2="232.5" y2="271.5" stroke="#111" stroke-width="1.0"/>
<line x1="226.5" y1="269.5" x2="238.5" y2="269.5" stroke="#111" stroke-width="1.0"/>
<rect x="221.5" y="271.5" width="22" height="9.5" fill="#fff" stroke="#111" stroke-width="1"/>
<line x1="232.5" y1="281" x2="232.5" y2="283.5" stroke="#111" stroke-width="1.0"/>
<line x1="265.5" y1="236.5" x2="265.5" y2="248.5" stroke="#111" stroke-width="1.0"/>
<line x1="259.5" y1="236.5" x2="271.5" y2="236.5" stroke="#111" stroke-width="1.0"/>
<rect x="254.5" y="248.5" width="22" height="32.5" fill="url(#diag)" stroke="#111" stroke-width="1"/>
<line x1="265.5" y1="281" x2="265.5" y2="283.5" stroke="#111" stroke-width="1.0"/>
<path d="M263.35,221.3 L264.11,222.85 L265.82,223.1 L264.59,224.3 L264.88,226 L263.35,225.2 L261.82,226 L262.11,224.3 L260.88,223.1 L262.59,222.85 Z M268.65,221.3 L269.41,222.85 L271.12,223.1 L269.89,224.3 L270.18,226 L268.65,225.2 L267.12,226 L267.41,224.3 L266.18,223.1 L267.89,222.85 Z" fill="#111"/>
<line x1="298.5" y1="266.5" x2="298.5" y2="267.5" stroke="#111" stroke-width="1.0"/>
<line x1="292.5" y1="266.5" x2="304.5" y2="266.5" stroke="#111" stroke-width="1.0"/>
<rect x="286.5" y="267.5" width="23" height="13.5" fill="url(#horiz)" stroke="#111" stroke-width="1"/>
<line x1="298.5" y1="281" x2="298.5" y2="283.5" stroke="#111" stroke-width="1.0"/>
<line x1="331.5" y1="200.5" x2="331.5" y2="211.5" stroke="#111" stroke-width="1.0"/>
<line x1="325.5" y1="200.5" x2="337.5" y2="200.5" stroke="#111" stroke-width="1.0"/>
<rect x="320.5" y="211.5" width="22" height="69.5" fill="#000" stroke="#111" stroke-width="1"/>
<line x1="331.5" y1="281" x2="331.5" y2="283.5" stroke="#111" stroke-width="1.0"/>
<path d="M324.05,184.1 L324.81,185.65 L326.52,185.9 L325.29,187.1 L325.58,188.8 L324.05,188 L322.52,188.8 L322.81,187.1 L321.58,185.9 L323.29,185.65 Z M329.35,184.1 L330.11,185.65 L331.82,185.9 L330.59,187.1 L330.88,188.8 L329.35,188 L327.82,188.8 L328.11,187.1 L326.88,185.9 L328.59,185.65 Z M334.65,184.1 L335.41,185.65 L337.12,185.9 L335.89,187.1 L336.18,188.8 L334.65,188 L333.12,188.8 L333.41,187.1 L332.18,185.9 L333.89,185.65 Z M339.95,184.1 L340.71,185.65 L342.42,185.9 L341.19,187.1 L341.48,188.8 L339.95,188 L338.42,188.8 L338.71,187.1 L337.48,185.9 L339.19,185.65 Z" fill="#111"/>
<g transform="translate(234.4,293.3) rotate(-45)">
<text x="0" y="0" font-size="8.3" text-anchor="end" fill="#111" style="stroke-width:0.33px">WT</text>
</g>
<g transform="translate(267.4,293.3) rotate(-45)">
<text x="0" y="0" font-size="8.3" text-anchor="end" fill="#111" style="stroke-width:0.33px">Abcb1a/b<tspan font-size="6" dy="-3">&#8211;/&#8211;</tspan></text>
</g>
<g transform="translate(300.4,293.3) rotate(-45)">
<text x="0" y="0" font-size="8.3" text-anchor="end" fill="#111" style="stroke-width:0.33px">Abcg2<tspan font-size="6" dy="-3">&#8211;/&#8211;</tspan></text>
</g>
<g transform="translate(333.7,293.3) rotate(-45)">
<text x="-2.6" y="0" font-size="8.3" text-anchor="end" fill="#111" style="stroke-width:0.33px">Abcb1a/b;</text>
<text x="-5.3" y="9.2" font-size="8.3" text-anchor="end" fill="#111" style="stroke-width:0.33px">Abcg2<tspan font-size="6" dy="-3">&#8211;/&#8211;</tspan></text>
</g>
<line x1="388.5" y1="193.5" x2="388.5" y2="281.5" stroke="#111" stroke-width="1.0"/>
<line x1="388" y1="281" x2="518" y2="281" stroke="#111" stroke-width="1.0"/>
<line x1="386" y1="281" x2="388.5" y2="281" stroke="#111" stroke-width="1.0"/>
<text x="385.5" y="282.6" font-size="6.5" font-weight="bold" text-anchor="end" fill="#111" style="stroke-width:0.4px">0.0</text>
<line x1="386" y1="252" x2="388.5" y2="252" stroke="#111" stroke-width="1.0"/>
<text x="385.5" y="253.6" font-size="6.5" font-weight="bold" text-anchor="end" fill="#111" style="stroke-width:0.4px">0.5</text>
<line x1="386" y1="223" x2="388.5" y2="223" stroke="#111" stroke-width="1.0"/>
<text x="385.5" y="224.6" font-size="6.5" font-weight="bold" text-anchor="end" fill="#111" style="stroke-width:0.4px">1.0</text>
<line x1="386" y1="194" x2="388.5" y2="194" stroke="#111" stroke-width="1.0"/>
<text x="385.5" y="195.6" font-size="6.5" font-weight="bold" text-anchor="end" fill="#111" style="stroke-width:0.4px">1.5</text>
<text x="454" y="180.5" font-size="8.7" font-weight="bold" text-anchor="middle" fill="#111" style="stroke-width:0.4px">Brain-plasma ratio</text>
<text x="0" y="0" font-size="8.7" font-weight="bold" text-anchor="middle" fill="#111" transform="translate(368.8,239.3) rotate(-90)">AZD brain&#8211;plasma ratio</text>
<line x1="404.5" y1="257.5" x2="404.5" y2="258.5" stroke="#111" stroke-width="1.0"/>
<line x1="398.5" y1="257.5" x2="410.5" y2="257.5" stroke="#111" stroke-width="1.0"/>
<rect x="393.5" y="258.5" width="22" height="22.5" fill="#fff" stroke="#111" stroke-width="1"/>
<line x1="404.5" y1="281" x2="404.5" y2="283.5" stroke="#111" stroke-width="1.0"/>
<line x1="437.5" y1="245.5" x2="437.5" y2="251.5" stroke="#111" stroke-width="1.0"/>
<line x1="431.5" y1="245.5" x2="443.5" y2="245.5" stroke="#111" stroke-width="1.0"/>
<rect x="426.5" y="251.5" width="22" height="29.5" fill="url(#diag)" stroke="#111" stroke-width="1"/>
<line x1="437.5" y1="281" x2="437.5" y2="283.5" stroke="#111" stroke-width="1.0"/>
<path d="M438,229.3 L438.76,230.85 L440.47,231.1 L439.24,232.3 L439.53,234 L438,233.2 L436.47,234 L436.76,232.3 L435.53,231.1 L437.24,230.85 Z" fill="#111"/>
<line x1="471.5" y1="268.5" x2="471.5" y2="269.5" stroke="#111" stroke-width="1.0"/>
<line x1="465.5" y1="268.5" x2="477.5" y2="268.5" stroke="#111" stroke-width="1.0"/>
<rect x="460.5" y="269.5" width="22" height="11.5" fill="url(#horiz)" stroke="#111" stroke-width="1"/>
<line x1="471.5" y1="281" x2="471.5" y2="283.5" stroke="#111" stroke-width="1.0"/>
<path d="M469.35,254.4 L470.11,255.95 L471.82,256.2 L470.59,257.4 L470.88,259.1 L469.35,258.3 L467.82,259.1 L468.11,257.4 L466.88,256.2 L468.59,255.95 Z M474.65,254.4 L475.41,255.95 L477.12,256.2 L475.89,257.4 L476.18,259.1 L474.65,258.3 L473.12,259.1 L473.41,257.4 L472.18,256.2 L473.89,255.95 Z" fill="#111"/>
<line x1="502.5" y1="219.5" x2="502.5" y2="225.5" stroke="#111" stroke-width="1.0"/>
<line x1="496.5" y1="219.5" x2="508.5" y2="219.5" stroke="#111" stroke-width="1.0"/>
<rect x="491.5" y="225.5" width="22" height="55.5" fill="#000" stroke="#111" stroke-width="1"/>
<line x1="502.5" y1="281" x2="502.5" y2="283.5" stroke="#111" stroke-width="1.0"/>
<path d="M497.7,204.2 L498.46,205.75 L500.17,206 L498.94,207.2 L499.23,208.9 L497.7,208.1 L496.17,208.9 L496.46,207.2 L495.23,206 L496.94,205.75 Z M503,204.2 L503.76,205.75 L505.47,206 L504.24,207.2 L504.53,208.9 L503,208.1 L501.47,208.9 L501.76,207.2 L500.53,206 L502.24,205.75 Z M508.3,204.2 L509.06,205.75 L510.77,206 L509.54,207.2 L509.83,208.9 L508.3,208.1 L506.77,208.9 L507.06,207.2 L505.83,206 L507.54,205.75 Z" fill="#111"/>
<g transform="translate(407,292.1) rotate(-45)">
<text x="0" y="0" font-size="8.3" text-anchor="end" fill="#111" style="stroke-width:0.33px">WT</text>
</g>
<g transform="translate(439.9,292.1) rotate(-45)">
<text x="0" y="0" font-size="8.3" text-anchor="end" fill="#111" style="stroke-width:0.33px">Abcb1a/b<tspan font-size="6" dy="-3">&#8211;/&#8211;</tspan></text>
</g>
<g transform="translate(473.4,292.1) rotate(-45)">
<text x="0" y="0" font-size="8.3" text-anchor="end" fill="#111" style="stroke-width:0.33px">Abcg2<tspan font-size="6" dy="-3">&#8211;/&#8211;</tspan></text>
</g>
<g transform="translate(505.1,292.1) rotate(-45)">
<text x="-2.6" y="0" font-size="8.3" text-anchor="end" fill="#111" style="stroke-width:0.33px">Abcb1a/b;</text>
<text x="-5.3" y="9.2" font-size="8.3" text-anchor="end" fill="#111" style="stroke-width:0.33px">Abcg2<tspan font-size="6" dy="-3">&#8211;/&#8211;</tspan></text>
</g>
</svg>
</body></html>
